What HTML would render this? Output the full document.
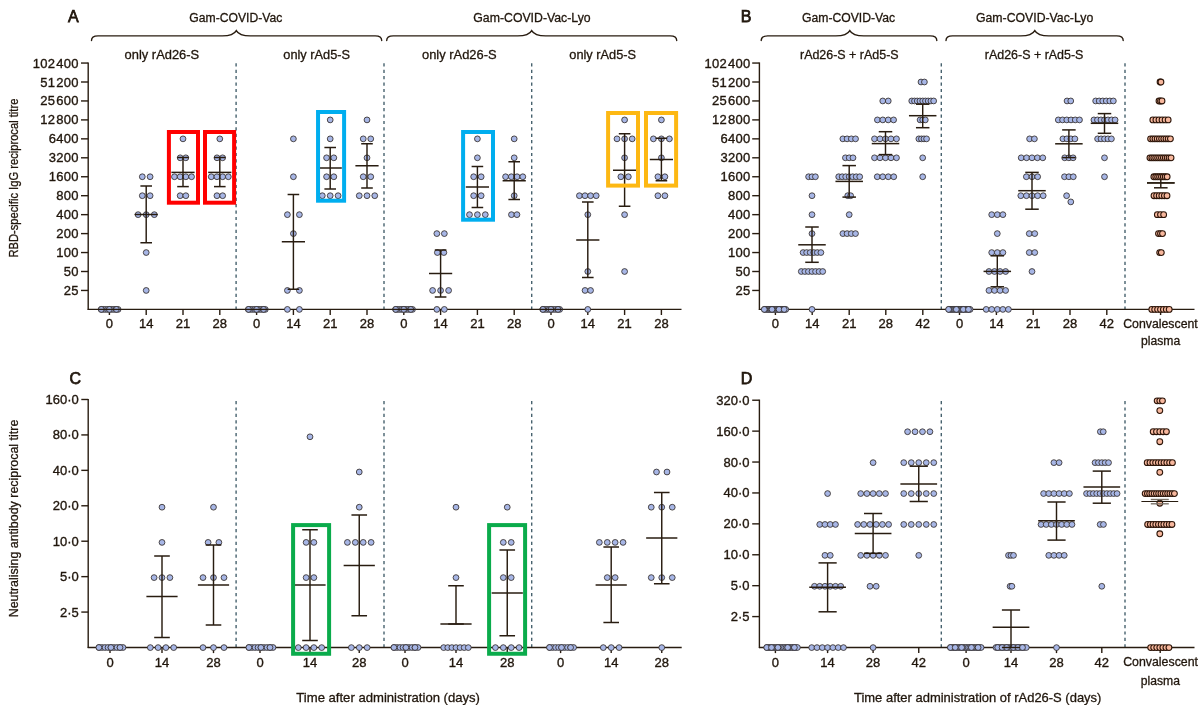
<!DOCTYPE html>
<html><head><meta charset="utf-8"><title>Figure</title>
<style>
html,body{margin:0;padding:0;background:#fff;}
body{width:1200px;height:710px;overflow:hidden;font-family:"Liberation Sans",sans-serif;}
svg{display:block;will-change:transform}
svg text{font-family:"Liberation Sans",sans-serif;fill:#20160c;stroke:#20160c;stroke-width:0.35px;}
svg text.t{stroke-width:0.3px;}
svg text.p{stroke-width:0.75px;}
</style></head><body>
<svg width="1200" height="710" viewBox="0 0 1200 710">
<rect width="1200" height="710" fill="#ffffff"/>
<line x1="236.10" y1="63.30" x2="236.10" y2="309.00" stroke="#47626e" stroke-width="1.4" stroke-dasharray="3.2 3.2"/>
<line x1="384.00" y1="63.30" x2="384.00" y2="309.00" stroke="#47626e" stroke-width="1.4" stroke-dasharray="3.2 3.2"/>
<line x1="531.70" y1="63.30" x2="531.70" y2="309.00" stroke="#47626e" stroke-width="1.4" stroke-dasharray="3.2 3.2"/>
<line x1="88.20" y1="62.45" x2="88.20" y2="310.00" stroke="#281c10" stroke-width="1.4" />
<line x1="87.70" y1="309.40" x2="681.50" y2="309.40" stroke="#281c10" stroke-width="1.4" />
<line x1="81.00" y1="290.45" x2="88.20" y2="290.45" stroke="#281c10" stroke-width="1.4" />
<line x1="81.00" y1="271.50" x2="88.20" y2="271.50" stroke="#281c10" stroke-width="1.4" />
<line x1="81.00" y1="252.55" x2="88.20" y2="252.55" stroke="#281c10" stroke-width="1.4" />
<line x1="81.00" y1="233.60" x2="88.20" y2="233.60" stroke="#281c10" stroke-width="1.4" />
<line x1="81.00" y1="214.65" x2="88.20" y2="214.65" stroke="#281c10" stroke-width="1.4" />
<line x1="81.00" y1="195.70" x2="88.20" y2="195.70" stroke="#281c10" stroke-width="1.4" />
<line x1="81.00" y1="176.75" x2="88.20" y2="176.75" stroke="#281c10" stroke-width="1.4" />
<line x1="81.00" y1="157.80" x2="88.20" y2="157.80" stroke="#281c10" stroke-width="1.4" />
<line x1="81.00" y1="138.85" x2="88.20" y2="138.85" stroke="#281c10" stroke-width="1.4" />
<line x1="81.00" y1="119.90" x2="88.20" y2="119.90" stroke="#281c10" stroke-width="1.4" />
<line x1="81.00" y1="100.95" x2="88.20" y2="100.95" stroke="#281c10" stroke-width="1.4" />
<line x1="81.00" y1="82.00" x2="88.20" y2="82.00" stroke="#281c10" stroke-width="1.4" />
<line x1="81.00" y1="63.05" x2="88.20" y2="63.05" stroke="#281c10" stroke-width="1.4" />
<line x1="109.40" y1="309.40" x2="109.40" y2="315.00" stroke="#281c10" stroke-width="1.4" />
<line x1="146.20" y1="309.40" x2="146.20" y2="315.00" stroke="#281c10" stroke-width="1.4" />
<line x1="183.00" y1="309.40" x2="183.00" y2="315.00" stroke="#281c10" stroke-width="1.4" />
<line x1="219.80" y1="309.40" x2="219.80" y2="315.00" stroke="#281c10" stroke-width="1.4" />
<line x1="256.60" y1="309.40" x2="256.60" y2="315.00" stroke="#281c10" stroke-width="1.4" />
<line x1="293.40" y1="309.40" x2="293.40" y2="315.00" stroke="#281c10" stroke-width="1.4" />
<line x1="330.20" y1="309.40" x2="330.20" y2="315.00" stroke="#281c10" stroke-width="1.4" />
<line x1="367.00" y1="309.40" x2="367.00" y2="315.00" stroke="#281c10" stroke-width="1.4" />
<line x1="403.80" y1="309.40" x2="403.80" y2="315.00" stroke="#281c10" stroke-width="1.4" />
<line x1="440.60" y1="309.40" x2="440.60" y2="315.00" stroke="#281c10" stroke-width="1.4" />
<line x1="477.40" y1="309.40" x2="477.40" y2="315.00" stroke="#281c10" stroke-width="1.4" />
<line x1="514.20" y1="309.40" x2="514.20" y2="315.00" stroke="#281c10" stroke-width="1.4" />
<line x1="551.00" y1="309.40" x2="551.00" y2="315.00" stroke="#281c10" stroke-width="1.4" />
<line x1="587.80" y1="309.40" x2="587.80" y2="315.00" stroke="#281c10" stroke-width="1.4" />
<line x1="624.60" y1="309.40" x2="624.60" y2="315.00" stroke="#281c10" stroke-width="1.4" />
<line x1="661.40" y1="309.40" x2="661.40" y2="315.00" stroke="#281c10" stroke-width="1.4" />
<circle cx="101.20" cy="309.40" r="2.9" fill="#a7b6e6" stroke="#2c2520" stroke-width="0.8"/>
<circle cx="103.31" cy="309.40" r="2.9" fill="#a7b6e6" stroke="#2c2520" stroke-width="0.8"/>
<circle cx="105.43" cy="309.40" r="2.9" fill="#a7b6e6" stroke="#2c2520" stroke-width="0.8"/>
<circle cx="107.54" cy="309.40" r="2.9" fill="#a7b6e6" stroke="#2c2520" stroke-width="0.8"/>
<circle cx="109.65" cy="309.40" r="2.9" fill="#a7b6e6" stroke="#2c2520" stroke-width="0.8"/>
<circle cx="111.76" cy="309.40" r="2.9" fill="#a7b6e6" stroke="#2c2520" stroke-width="0.8"/>
<circle cx="113.88" cy="309.40" r="2.9" fill="#a7b6e6" stroke="#2c2520" stroke-width="0.8"/>
<circle cx="115.99" cy="309.40" r="2.9" fill="#a7b6e6" stroke="#2c2520" stroke-width="0.8"/>
<circle cx="118.10" cy="309.40" r="2.9" fill="#a7b6e6" stroke="#2c2520" stroke-width="0.8"/>
<circle cx="101.30" cy="309.40" r="2.9" fill="#a7b6e6" stroke="#2c2520" stroke-width="0.8"/>
<circle cx="109.35" cy="309.40" r="2.9" fill="#a7b6e6" stroke="#2c2520" stroke-width="0.8"/>
<circle cx="116.40" cy="309.40" r="2.9" fill="#a7b6e6" stroke="#2c2520" stroke-width="0.8"/>
<circle cx="248.40" cy="309.40" r="2.9" fill="#a7b6e6" stroke="#2c2520" stroke-width="0.8"/>
<circle cx="250.51" cy="309.40" r="2.9" fill="#a7b6e6" stroke="#2c2520" stroke-width="0.8"/>
<circle cx="252.63" cy="309.40" r="2.9" fill="#a7b6e6" stroke="#2c2520" stroke-width="0.8"/>
<circle cx="254.74" cy="309.40" r="2.9" fill="#a7b6e6" stroke="#2c2520" stroke-width="0.8"/>
<circle cx="256.85" cy="309.40" r="2.9" fill="#a7b6e6" stroke="#2c2520" stroke-width="0.8"/>
<circle cx="258.96" cy="309.40" r="2.9" fill="#a7b6e6" stroke="#2c2520" stroke-width="0.8"/>
<circle cx="261.08" cy="309.40" r="2.9" fill="#a7b6e6" stroke="#2c2520" stroke-width="0.8"/>
<circle cx="263.19" cy="309.40" r="2.9" fill="#a7b6e6" stroke="#2c2520" stroke-width="0.8"/>
<circle cx="265.30" cy="309.40" r="2.9" fill="#a7b6e6" stroke="#2c2520" stroke-width="0.8"/>
<circle cx="248.50" cy="309.40" r="2.9" fill="#a7b6e6" stroke="#2c2520" stroke-width="0.8"/>
<circle cx="256.55" cy="309.40" r="2.9" fill="#a7b6e6" stroke="#2c2520" stroke-width="0.8"/>
<circle cx="263.60" cy="309.40" r="2.9" fill="#a7b6e6" stroke="#2c2520" stroke-width="0.8"/>
<circle cx="395.60" cy="309.40" r="2.9" fill="#a7b6e6" stroke="#2c2520" stroke-width="0.8"/>
<circle cx="397.71" cy="309.40" r="2.9" fill="#a7b6e6" stroke="#2c2520" stroke-width="0.8"/>
<circle cx="399.82" cy="309.40" r="2.9" fill="#a7b6e6" stroke="#2c2520" stroke-width="0.8"/>
<circle cx="401.94" cy="309.40" r="2.9" fill="#a7b6e6" stroke="#2c2520" stroke-width="0.8"/>
<circle cx="404.05" cy="309.40" r="2.9" fill="#a7b6e6" stroke="#2c2520" stroke-width="0.8"/>
<circle cx="406.16" cy="309.40" r="2.9" fill="#a7b6e6" stroke="#2c2520" stroke-width="0.8"/>
<circle cx="408.27" cy="309.40" r="2.9" fill="#a7b6e6" stroke="#2c2520" stroke-width="0.8"/>
<circle cx="410.39" cy="309.40" r="2.9" fill="#a7b6e6" stroke="#2c2520" stroke-width="0.8"/>
<circle cx="412.50" cy="309.40" r="2.9" fill="#a7b6e6" stroke="#2c2520" stroke-width="0.8"/>
<circle cx="395.70" cy="309.40" r="2.9" fill="#a7b6e6" stroke="#2c2520" stroke-width="0.8"/>
<circle cx="403.75" cy="309.40" r="2.9" fill="#a7b6e6" stroke="#2c2520" stroke-width="0.8"/>
<circle cx="410.80" cy="309.40" r="2.9" fill="#a7b6e6" stroke="#2c2520" stroke-width="0.8"/>
<circle cx="542.80" cy="309.40" r="2.9" fill="#a7b6e6" stroke="#2c2520" stroke-width="0.8"/>
<circle cx="544.91" cy="309.40" r="2.9" fill="#a7b6e6" stroke="#2c2520" stroke-width="0.8"/>
<circle cx="547.02" cy="309.40" r="2.9" fill="#a7b6e6" stroke="#2c2520" stroke-width="0.8"/>
<circle cx="549.14" cy="309.40" r="2.9" fill="#a7b6e6" stroke="#2c2520" stroke-width="0.8"/>
<circle cx="551.25" cy="309.40" r="2.9" fill="#a7b6e6" stroke="#2c2520" stroke-width="0.8"/>
<circle cx="553.36" cy="309.40" r="2.9" fill="#a7b6e6" stroke="#2c2520" stroke-width="0.8"/>
<circle cx="555.48" cy="309.40" r="2.9" fill="#a7b6e6" stroke="#2c2520" stroke-width="0.8"/>
<circle cx="557.59" cy="309.40" r="2.9" fill="#a7b6e6" stroke="#2c2520" stroke-width="0.8"/>
<circle cx="559.70" cy="309.40" r="2.9" fill="#a7b6e6" stroke="#2c2520" stroke-width="0.8"/>
<circle cx="542.90" cy="309.40" r="2.9" fill="#a7b6e6" stroke="#2c2520" stroke-width="0.8"/>
<circle cx="550.95" cy="309.40" r="2.9" fill="#a7b6e6" stroke="#2c2520" stroke-width="0.8"/>
<circle cx="558.00" cy="309.40" r="2.9" fill="#a7b6e6" stroke="#2c2520" stroke-width="0.8"/>
<circle cx="142.30" cy="176.75" r="2.9" fill="#a7b6e6" stroke="#2c2520" stroke-width="0.8"/>
<circle cx="150.10" cy="176.75" r="2.9" fill="#a7b6e6" stroke="#2c2520" stroke-width="0.8"/>
<circle cx="142.30" cy="195.70" r="2.9" fill="#a7b6e6" stroke="#2c2520" stroke-width="0.8"/>
<circle cx="150.10" cy="195.70" r="2.9" fill="#a7b6e6" stroke="#2c2520" stroke-width="0.8"/>
<circle cx="138.10" cy="214.65" r="2.9" fill="#a7b6e6" stroke="#2c2520" stroke-width="0.8"/>
<circle cx="146.20" cy="214.65" r="2.9" fill="#a7b6e6" stroke="#2c2520" stroke-width="0.8"/>
<circle cx="154.30" cy="214.65" r="2.9" fill="#a7b6e6" stroke="#2c2520" stroke-width="0.8"/>
<circle cx="146.20" cy="252.55" r="2.9" fill="#a7b6e6" stroke="#2c2520" stroke-width="0.8"/>
<circle cx="146.20" cy="290.45" r="2.9" fill="#a7b6e6" stroke="#2c2520" stroke-width="0.8"/>
<circle cx="183.00" cy="138.85" r="2.9" fill="#a7b6e6" stroke="#2c2520" stroke-width="0.8"/>
<circle cx="180.20" cy="157.80" r="2.9" fill="#a7b6e6" stroke="#2c2520" stroke-width="0.8"/>
<circle cx="185.80" cy="157.80" r="2.9" fill="#a7b6e6" stroke="#2c2520" stroke-width="0.8"/>
<circle cx="174.45" cy="176.75" r="2.9" fill="#a7b6e6" stroke="#2c2520" stroke-width="0.8"/>
<circle cx="180.15" cy="176.75" r="2.9" fill="#a7b6e6" stroke="#2c2520" stroke-width="0.8"/>
<circle cx="185.85" cy="176.75" r="2.9" fill="#a7b6e6" stroke="#2c2520" stroke-width="0.8"/>
<circle cx="191.55" cy="176.75" r="2.9" fill="#a7b6e6" stroke="#2c2520" stroke-width="0.8"/>
<circle cx="180.15" cy="195.70" r="2.9" fill="#a7b6e6" stroke="#2c2520" stroke-width="0.8"/>
<circle cx="185.85" cy="195.70" r="2.9" fill="#a7b6e6" stroke="#2c2520" stroke-width="0.8"/>
<circle cx="219.80" cy="138.85" r="2.9" fill="#a7b6e6" stroke="#2c2520" stroke-width="0.8"/>
<circle cx="217.00" cy="157.80" r="2.9" fill="#a7b6e6" stroke="#2c2520" stroke-width="0.8"/>
<circle cx="222.60" cy="157.80" r="2.9" fill="#a7b6e6" stroke="#2c2520" stroke-width="0.8"/>
<circle cx="211.25" cy="176.75" r="2.9" fill="#a7b6e6" stroke="#2c2520" stroke-width="0.8"/>
<circle cx="216.95" cy="176.75" r="2.9" fill="#a7b6e6" stroke="#2c2520" stroke-width="0.8"/>
<circle cx="222.65" cy="176.75" r="2.9" fill="#a7b6e6" stroke="#2c2520" stroke-width="0.8"/>
<circle cx="228.35" cy="176.75" r="2.9" fill="#a7b6e6" stroke="#2c2520" stroke-width="0.8"/>
<circle cx="216.95" cy="195.70" r="2.9" fill="#a7b6e6" stroke="#2c2520" stroke-width="0.8"/>
<circle cx="222.65" cy="195.70" r="2.9" fill="#a7b6e6" stroke="#2c2520" stroke-width="0.8"/>
<circle cx="293.40" cy="138.85" r="2.9" fill="#a7b6e6" stroke="#2c2520" stroke-width="0.8"/>
<circle cx="293.40" cy="176.75" r="2.9" fill="#a7b6e6" stroke="#2c2520" stroke-width="0.8"/>
<circle cx="287.40" cy="214.65" r="2.9" fill="#a7b6e6" stroke="#2c2520" stroke-width="0.8"/>
<circle cx="299.40" cy="214.65" r="2.9" fill="#a7b6e6" stroke="#2c2520" stroke-width="0.8"/>
<circle cx="293.40" cy="233.60" r="2.9" fill="#a7b6e6" stroke="#2c2520" stroke-width="0.8"/>
<circle cx="287.40" cy="290.45" r="2.9" fill="#a7b6e6" stroke="#2c2520" stroke-width="0.8"/>
<circle cx="299.40" cy="290.45" r="2.9" fill="#a7b6e6" stroke="#2c2520" stroke-width="0.8"/>
<circle cx="287.40" cy="309.40" r="2.9" fill="#a7b6e6" stroke="#2c2520" stroke-width="0.8"/>
<circle cx="299.40" cy="309.40" r="2.9" fill="#a7b6e6" stroke="#2c2520" stroke-width="0.8"/>
<circle cx="330.20" cy="119.90" r="2.9" fill="#a7b6e6" stroke="#2c2520" stroke-width="0.8"/>
<circle cx="330.20" cy="138.85" r="2.9" fill="#a7b6e6" stroke="#2c2520" stroke-width="0.8"/>
<circle cx="326.57" cy="157.80" r="2.9" fill="#a7b6e6" stroke="#2c2520" stroke-width="0.8"/>
<circle cx="333.82" cy="157.80" r="2.9" fill="#a7b6e6" stroke="#2c2520" stroke-width="0.8"/>
<circle cx="326.57" cy="176.75" r="2.9" fill="#a7b6e6" stroke="#2c2520" stroke-width="0.8"/>
<circle cx="333.82" cy="176.75" r="2.9" fill="#a7b6e6" stroke="#2c2520" stroke-width="0.8"/>
<circle cx="322.30" cy="195.70" r="2.9" fill="#a7b6e6" stroke="#2c2520" stroke-width="0.8"/>
<circle cx="330.20" cy="195.70" r="2.9" fill="#a7b6e6" stroke="#2c2520" stroke-width="0.8"/>
<circle cx="338.10" cy="195.70" r="2.9" fill="#a7b6e6" stroke="#2c2520" stroke-width="0.8"/>
<circle cx="367.00" cy="119.90" r="2.9" fill="#a7b6e6" stroke="#2c2520" stroke-width="0.8"/>
<circle cx="363.25" cy="138.85" r="2.9" fill="#a7b6e6" stroke="#2c2520" stroke-width="0.8"/>
<circle cx="370.75" cy="138.85" r="2.9" fill="#a7b6e6" stroke="#2c2520" stroke-width="0.8"/>
<circle cx="367.00" cy="157.80" r="2.9" fill="#a7b6e6" stroke="#2c2520" stroke-width="0.8"/>
<circle cx="363.25" cy="176.75" r="2.9" fill="#a7b6e6" stroke="#2c2520" stroke-width="0.8"/>
<circle cx="370.75" cy="176.75" r="2.9" fill="#a7b6e6" stroke="#2c2520" stroke-width="0.8"/>
<circle cx="359.25" cy="195.70" r="2.9" fill="#a7b6e6" stroke="#2c2520" stroke-width="0.8"/>
<circle cx="367.00" cy="195.70" r="2.9" fill="#a7b6e6" stroke="#2c2520" stroke-width="0.8"/>
<circle cx="374.75" cy="195.70" r="2.9" fill="#a7b6e6" stroke="#2c2520" stroke-width="0.8"/>
<circle cx="436.85" cy="233.60" r="2.9" fill="#a7b6e6" stroke="#2c2520" stroke-width="0.8"/>
<circle cx="444.35" cy="233.60" r="2.9" fill="#a7b6e6" stroke="#2c2520" stroke-width="0.8"/>
<circle cx="437.35" cy="252.55" r="2.9" fill="#a7b6e6" stroke="#2c2520" stroke-width="0.8"/>
<circle cx="443.85" cy="252.55" r="2.9" fill="#a7b6e6" stroke="#2c2520" stroke-width="0.8"/>
<circle cx="432.60" cy="290.45" r="2.9" fill="#a7b6e6" stroke="#2c2520" stroke-width="0.8"/>
<circle cx="440.60" cy="290.45" r="2.9" fill="#a7b6e6" stroke="#2c2520" stroke-width="0.8"/>
<circle cx="448.60" cy="290.45" r="2.9" fill="#a7b6e6" stroke="#2c2520" stroke-width="0.8"/>
<circle cx="436.85" cy="309.40" r="2.9" fill="#a7b6e6" stroke="#2c2520" stroke-width="0.8"/>
<circle cx="444.35" cy="309.40" r="2.9" fill="#a7b6e6" stroke="#2c2520" stroke-width="0.8"/>
<circle cx="477.40" cy="138.85" r="2.9" fill="#a7b6e6" stroke="#2c2520" stroke-width="0.8"/>
<circle cx="477.40" cy="157.80" r="2.9" fill="#a7b6e6" stroke="#2c2520" stroke-width="0.8"/>
<circle cx="473.65" cy="176.75" r="2.9" fill="#a7b6e6" stroke="#2c2520" stroke-width="0.8"/>
<circle cx="481.15" cy="176.75" r="2.9" fill="#a7b6e6" stroke="#2c2520" stroke-width="0.8"/>
<circle cx="473.65" cy="195.70" r="2.9" fill="#a7b6e6" stroke="#2c2520" stroke-width="0.8"/>
<circle cx="481.15" cy="195.70" r="2.9" fill="#a7b6e6" stroke="#2c2520" stroke-width="0.8"/>
<circle cx="469.50" cy="214.65" r="2.9" fill="#a7b6e6" stroke="#2c2520" stroke-width="0.8"/>
<circle cx="477.40" cy="214.65" r="2.9" fill="#a7b6e6" stroke="#2c2520" stroke-width="0.8"/>
<circle cx="485.30" cy="214.65" r="2.9" fill="#a7b6e6" stroke="#2c2520" stroke-width="0.8"/>
<circle cx="514.20" cy="138.85" r="2.9" fill="#a7b6e6" stroke="#2c2520" stroke-width="0.8"/>
<circle cx="514.20" cy="157.80" r="2.9" fill="#a7b6e6" stroke="#2c2520" stroke-width="0.8"/>
<circle cx="505.57" cy="176.75" r="2.9" fill="#a7b6e6" stroke="#2c2520" stroke-width="0.8"/>
<circle cx="511.32" cy="176.75" r="2.9" fill="#a7b6e6" stroke="#2c2520" stroke-width="0.8"/>
<circle cx="517.07" cy="176.75" r="2.9" fill="#a7b6e6" stroke="#2c2520" stroke-width="0.8"/>
<circle cx="522.82" cy="176.75" r="2.9" fill="#a7b6e6" stroke="#2c2520" stroke-width="0.8"/>
<circle cx="514.20" cy="195.70" r="2.9" fill="#a7b6e6" stroke="#2c2520" stroke-width="0.8"/>
<circle cx="511.45" cy="214.65" r="2.9" fill="#a7b6e6" stroke="#2c2520" stroke-width="0.8"/>
<circle cx="516.95" cy="214.65" r="2.9" fill="#a7b6e6" stroke="#2c2520" stroke-width="0.8"/>
<circle cx="579.40" cy="195.70" r="2.9" fill="#a7b6e6" stroke="#2c2520" stroke-width="0.8"/>
<circle cx="585.00" cy="195.70" r="2.9" fill="#a7b6e6" stroke="#2c2520" stroke-width="0.8"/>
<circle cx="590.60" cy="195.70" r="2.9" fill="#a7b6e6" stroke="#2c2520" stroke-width="0.8"/>
<circle cx="596.20" cy="195.70" r="2.9" fill="#a7b6e6" stroke="#2c2520" stroke-width="0.8"/>
<circle cx="587.80" cy="214.65" r="2.9" fill="#a7b6e6" stroke="#2c2520" stroke-width="0.8"/>
<circle cx="587.80" cy="271.50" r="2.9" fill="#a7b6e6" stroke="#2c2520" stroke-width="0.8"/>
<circle cx="585.05" cy="290.45" r="2.9" fill="#a7b6e6" stroke="#2c2520" stroke-width="0.8"/>
<circle cx="590.55" cy="290.45" r="2.9" fill="#a7b6e6" stroke="#2c2520" stroke-width="0.8"/>
<circle cx="587.80" cy="309.40" r="2.9" fill="#a7b6e6" stroke="#2c2520" stroke-width="0.8"/>
<circle cx="624.60" cy="119.90" r="2.9" fill="#a7b6e6" stroke="#2c2520" stroke-width="0.8"/>
<circle cx="617.00" cy="138.85" r="2.9" fill="#a7b6e6" stroke="#2c2520" stroke-width="0.8"/>
<circle cx="624.60" cy="138.85" r="2.9" fill="#a7b6e6" stroke="#2c2520" stroke-width="0.8"/>
<circle cx="632.20" cy="138.85" r="2.9" fill="#a7b6e6" stroke="#2c2520" stroke-width="0.8"/>
<circle cx="624.60" cy="157.80" r="2.9" fill="#a7b6e6" stroke="#2c2520" stroke-width="0.8"/>
<circle cx="620.85" cy="176.75" r="2.9" fill="#a7b6e6" stroke="#2c2520" stroke-width="0.8"/>
<circle cx="628.35" cy="176.75" r="2.9" fill="#a7b6e6" stroke="#2c2520" stroke-width="0.8"/>
<circle cx="624.60" cy="214.65" r="2.9" fill="#a7b6e6" stroke="#2c2520" stroke-width="0.8"/>
<circle cx="624.60" cy="271.50" r="2.9" fill="#a7b6e6" stroke="#2c2520" stroke-width="0.8"/>
<circle cx="661.40" cy="119.90" r="2.9" fill="#a7b6e6" stroke="#2c2520" stroke-width="0.8"/>
<circle cx="653.40" cy="138.85" r="2.9" fill="#a7b6e6" stroke="#2c2520" stroke-width="0.8"/>
<circle cx="661.40" cy="138.85" r="2.9" fill="#a7b6e6" stroke="#2c2520" stroke-width="0.8"/>
<circle cx="669.40" cy="138.85" r="2.9" fill="#a7b6e6" stroke="#2c2520" stroke-width="0.8"/>
<circle cx="661.40" cy="157.80" r="2.9" fill="#a7b6e6" stroke="#2c2520" stroke-width="0.8"/>
<circle cx="657.90" cy="176.75" r="2.9" fill="#a7b6e6" stroke="#2c2520" stroke-width="0.8"/>
<circle cx="664.90" cy="176.75" r="2.9" fill="#a7b6e6" stroke="#2c2520" stroke-width="0.8"/>
<circle cx="657.90" cy="195.70" r="2.9" fill="#a7b6e6" stroke="#2c2520" stroke-width="0.8"/>
<circle cx="664.90" cy="195.70" r="2.9" fill="#a7b6e6" stroke="#2c2520" stroke-width="0.8"/>
<line x1="146.20" y1="186.00" x2="146.20" y2="242.75" stroke="#281c10" stroke-width="1.45" />
<line x1="134.60" y1="214.50" x2="157.80" y2="214.50" stroke="#281c10" stroke-width="1.5" />
<line x1="140.40" y1="186.00" x2="152.00" y2="186.00" stroke="#281c10" stroke-width="1.5" />
<line x1="140.40" y1="242.75" x2="152.00" y2="242.75" stroke="#281c10" stroke-width="1.5" />
<line x1="183.00" y1="157.50" x2="183.00" y2="186.60" stroke="#281c10" stroke-width="1.45" />
<line x1="171.40" y1="172.40" x2="194.60" y2="172.40" stroke="#281c10" stroke-width="1.5" />
<line x1="177.20" y1="157.50" x2="188.80" y2="157.50" stroke="#281c10" stroke-width="1.5" />
<line x1="177.20" y1="186.60" x2="188.80" y2="186.60" stroke="#281c10" stroke-width="1.5" />
<line x1="219.80" y1="157.50" x2="219.80" y2="186.60" stroke="#281c10" stroke-width="1.45" />
<line x1="208.20" y1="172.40" x2="231.40" y2="172.40" stroke="#281c10" stroke-width="1.5" />
<line x1="214.00" y1="157.50" x2="225.60" y2="157.50" stroke="#281c10" stroke-width="1.5" />
<line x1="214.00" y1="186.60" x2="225.60" y2="186.60" stroke="#281c10" stroke-width="1.5" />
<line x1="293.40" y1="194.50" x2="293.40" y2="289.25" stroke="#281c10" stroke-width="1.45" />
<line x1="281.80" y1="241.75" x2="305.00" y2="241.75" stroke="#281c10" stroke-width="1.5" />
<line x1="287.60" y1="194.50" x2="299.20" y2="194.50" stroke="#281c10" stroke-width="1.5" />
<line x1="287.60" y1="289.25" x2="299.20" y2="289.25" stroke="#281c10" stroke-width="1.5" />
<line x1="330.20" y1="147.50" x2="330.20" y2="189.00" stroke="#281c10" stroke-width="1.45" />
<line x1="318.60" y1="168.00" x2="341.80" y2="168.00" stroke="#281c10" stroke-width="1.5" />
<line x1="324.40" y1="147.50" x2="336.00" y2="147.50" stroke="#281c10" stroke-width="1.5" />
<line x1="324.40" y1="189.00" x2="336.00" y2="189.00" stroke="#281c10" stroke-width="1.5" />
<line x1="367.00" y1="143.75" x2="367.00" y2="188.00" stroke="#281c10" stroke-width="1.45" />
<line x1="355.40" y1="165.75" x2="378.60" y2="165.75" stroke="#281c10" stroke-width="1.5" />
<line x1="361.20" y1="143.75" x2="372.80" y2="143.75" stroke="#281c10" stroke-width="1.5" />
<line x1="361.20" y1="188.00" x2="372.80" y2="188.00" stroke="#281c10" stroke-width="1.5" />
<line x1="440.60" y1="250.00" x2="440.60" y2="297.00" stroke="#281c10" stroke-width="1.45" />
<line x1="429.00" y1="273.50" x2="452.20" y2="273.50" stroke="#281c10" stroke-width="1.5" />
<line x1="434.80" y1="250.00" x2="446.40" y2="250.00" stroke="#281c10" stroke-width="1.5" />
<line x1="434.80" y1="297.00" x2="446.40" y2="297.00" stroke="#281c10" stroke-width="1.5" />
<line x1="477.40" y1="166.50" x2="477.40" y2="207.50" stroke="#281c10" stroke-width="1.45" />
<line x1="465.80" y1="187.00" x2="489.00" y2="187.00" stroke="#281c10" stroke-width="1.5" />
<line x1="471.60" y1="166.50" x2="483.20" y2="166.50" stroke="#281c10" stroke-width="1.5" />
<line x1="471.60" y1="207.50" x2="483.20" y2="207.50" stroke="#281c10" stroke-width="1.5" />
<line x1="514.20" y1="161.75" x2="514.20" y2="199.50" stroke="#281c10" stroke-width="1.45" />
<line x1="502.60" y1="180.75" x2="525.80" y2="180.75" stroke="#281c10" stroke-width="1.5" />
<line x1="508.40" y1="161.75" x2="520.00" y2="161.75" stroke="#281c10" stroke-width="1.5" />
<line x1="508.40" y1="199.50" x2="520.00" y2="199.50" stroke="#281c10" stroke-width="1.5" />
<line x1="587.80" y1="202.00" x2="587.80" y2="277.50" stroke="#281c10" stroke-width="1.45" />
<line x1="576.20" y1="240.00" x2="599.40" y2="240.00" stroke="#281c10" stroke-width="1.5" />
<line x1="582.00" y1="202.00" x2="593.60" y2="202.00" stroke="#281c10" stroke-width="1.5" />
<line x1="582.00" y1="277.50" x2="593.60" y2="277.50" stroke="#281c10" stroke-width="1.5" />
<line x1="624.60" y1="133.75" x2="624.60" y2="206.25" stroke="#281c10" stroke-width="1.45" />
<line x1="613.00" y1="170.25" x2="636.20" y2="170.25" stroke="#281c10" stroke-width="1.5" />
<line x1="618.80" y1="133.75" x2="630.40" y2="133.75" stroke="#281c10" stroke-width="1.5" />
<line x1="618.80" y1="206.25" x2="630.40" y2="206.25" stroke="#281c10" stroke-width="1.5" />
<line x1="661.40" y1="138.25" x2="661.40" y2="180.75" stroke="#281c10" stroke-width="1.45" />
<line x1="649.80" y1="159.50" x2="673.00" y2="159.50" stroke="#281c10" stroke-width="1.5" />
<line x1="655.60" y1="138.25" x2="667.20" y2="138.25" stroke="#281c10" stroke-width="1.5" />
<line x1="655.60" y1="180.75" x2="667.20" y2="180.75" stroke="#281c10" stroke-width="1.5" />
<line x1="97.80" y1="309.40" x2="121.00" y2="309.40" stroke="#281c10" stroke-width="1.35" />
<line x1="245.00" y1="309.40" x2="268.20" y2="309.40" stroke="#281c10" stroke-width="1.35" />
<line x1="392.20" y1="309.40" x2="415.40" y2="309.40" stroke="#281c10" stroke-width="1.35" />
<line x1="539.40" y1="309.40" x2="562.60" y2="309.40" stroke="#281c10" stroke-width="1.35" />
<rect x="168.90" y="132.00" width="29.10" height="70.70" fill="none" stroke="#ff0000" stroke-width="4.0"/>
<rect x="205.00" y="132.00" width="29.10" height="70.70" fill="none" stroke="#ff0000" stroke-width="4.0"/>
<rect x="318.05" y="112.00" width="26.05" height="88.70" fill="none" stroke="#00aeef" stroke-width="4.0"/>
<rect x="463.10" y="132.00" width="29.90" height="87.70" fill="none" stroke="#00aeef" stroke-width="4.0"/>
<rect x="608.10" y="113.00" width="29.90" height="72.60" fill="none" stroke="#fdb813" stroke-width="4.0"/>
<rect x="646.00" y="113.00" width="30.10" height="72.60" fill="none" stroke="#fdb813" stroke-width="4.0"/>
<path d="M91.5,40.6 C91.5,37.1 93.5,35.9 98.0,35.9 L222.3,35.9 C230.3,35.9 234.5,33.9 236.3,30.6 C238.1,33.9 242.3,35.9 250.3,35.9 L375.2,35.9 C379.7,35.9 381.7,37.1 381.7,40.6" fill="none" stroke="#281c10" stroke-width="1.4" stroke-linecap="round"/>
<path d="M386.7,40.6 C386.7,37.1 388.7,35.9 393.2,35.9 L517.7,35.9 C525.7,35.9 529.9,33.9 531.7,30.6 C533.5,33.9 537.7,35.9 545.7,35.9 L670.2,35.9 C674.7,35.9 676.7,37.1 676.7,40.6" fill="none" stroke="#281c10" stroke-width="1.4" stroke-linecap="round"/>
<line x1="941.30" y1="63.30" x2="941.30" y2="309.00" stroke="#47626e" stroke-width="1.4" stroke-dasharray="3.2 3.2"/>
<line x1="1125.00" y1="63.30" x2="1125.00" y2="309.00" stroke="#47626e" stroke-width="1.4" stroke-dasharray="3.2 3.2"/>
<line x1="759.40" y1="62.45" x2="759.40" y2="310.00" stroke="#281c10" stroke-width="1.4" />
<line x1="758.90" y1="309.40" x2="1194.50" y2="309.40" stroke="#281c10" stroke-width="1.4" />
<line x1="752.20" y1="290.45" x2="759.40" y2="290.45" stroke="#281c10" stroke-width="1.4" />
<line x1="752.20" y1="271.50" x2="759.40" y2="271.50" stroke="#281c10" stroke-width="1.4" />
<line x1="752.20" y1="252.55" x2="759.40" y2="252.55" stroke="#281c10" stroke-width="1.4" />
<line x1="752.20" y1="233.60" x2="759.40" y2="233.60" stroke="#281c10" stroke-width="1.4" />
<line x1="752.20" y1="214.65" x2="759.40" y2="214.65" stroke="#281c10" stroke-width="1.4" />
<line x1="752.20" y1="195.70" x2="759.40" y2="195.70" stroke="#281c10" stroke-width="1.4" />
<line x1="752.20" y1="176.75" x2="759.40" y2="176.75" stroke="#281c10" stroke-width="1.4" />
<line x1="752.20" y1="157.80" x2="759.40" y2="157.80" stroke="#281c10" stroke-width="1.4" />
<line x1="752.20" y1="138.85" x2="759.40" y2="138.85" stroke="#281c10" stroke-width="1.4" />
<line x1="752.20" y1="119.90" x2="759.40" y2="119.90" stroke="#281c10" stroke-width="1.4" />
<line x1="752.20" y1="100.95" x2="759.40" y2="100.95" stroke="#281c10" stroke-width="1.4" />
<line x1="752.20" y1="82.00" x2="759.40" y2="82.00" stroke="#281c10" stroke-width="1.4" />
<line x1="752.20" y1="63.05" x2="759.40" y2="63.05" stroke="#281c10" stroke-width="1.4" />
<line x1="775.40" y1="309.40" x2="775.40" y2="315.00" stroke="#281c10" stroke-width="1.4" />
<line x1="812.20" y1="309.40" x2="812.20" y2="315.00" stroke="#281c10" stroke-width="1.4" />
<line x1="849.20" y1="309.40" x2="849.20" y2="315.00" stroke="#281c10" stroke-width="1.4" />
<line x1="885.80" y1="309.40" x2="885.80" y2="315.00" stroke="#281c10" stroke-width="1.4" />
<line x1="922.80" y1="309.40" x2="922.80" y2="315.00" stroke="#281c10" stroke-width="1.4" />
<line x1="959.50" y1="309.40" x2="959.50" y2="315.00" stroke="#281c10" stroke-width="1.4" />
<line x1="996.40" y1="309.40" x2="996.40" y2="315.00" stroke="#281c10" stroke-width="1.4" />
<line x1="1033.20" y1="309.40" x2="1033.20" y2="315.00" stroke="#281c10" stroke-width="1.4" />
<line x1="1070.00" y1="309.40" x2="1070.00" y2="315.00" stroke="#281c10" stroke-width="1.4" />
<line x1="1106.80" y1="309.40" x2="1106.80" y2="315.00" stroke="#281c10" stroke-width="1.4" />
<line x1="1160.60" y1="309.40" x2="1160.60" y2="315.00" stroke="#281c10" stroke-width="1.4" />
<circle cx="764.45" cy="309.40" r="2.9" fill="#a7b6e6" stroke="#2c2520" stroke-width="0.8"/>
<circle cx="765.57" cy="309.40" r="2.9" fill="#a7b6e6" stroke="#2c2520" stroke-width="0.8"/>
<circle cx="766.70" cy="309.40" r="2.9" fill="#a7b6e6" stroke="#2c2520" stroke-width="0.8"/>
<circle cx="767.82" cy="309.40" r="2.9" fill="#a7b6e6" stroke="#2c2520" stroke-width="0.8"/>
<circle cx="768.94" cy="309.40" r="2.9" fill="#a7b6e6" stroke="#2c2520" stroke-width="0.8"/>
<circle cx="770.07" cy="309.40" r="2.9" fill="#a7b6e6" stroke="#2c2520" stroke-width="0.8"/>
<circle cx="771.19" cy="309.40" r="2.9" fill="#a7b6e6" stroke="#2c2520" stroke-width="0.8"/>
<circle cx="772.32" cy="309.40" r="2.9" fill="#a7b6e6" stroke="#2c2520" stroke-width="0.8"/>
<circle cx="773.44" cy="309.40" r="2.9" fill="#a7b6e6" stroke="#2c2520" stroke-width="0.8"/>
<circle cx="774.56" cy="309.40" r="2.9" fill="#a7b6e6" stroke="#2c2520" stroke-width="0.8"/>
<circle cx="775.69" cy="309.40" r="2.9" fill="#a7b6e6" stroke="#2c2520" stroke-width="0.8"/>
<circle cx="776.81" cy="309.40" r="2.9" fill="#a7b6e6" stroke="#2c2520" stroke-width="0.8"/>
<circle cx="777.93" cy="309.40" r="2.9" fill="#a7b6e6" stroke="#2c2520" stroke-width="0.8"/>
<circle cx="779.06" cy="309.40" r="2.9" fill="#a7b6e6" stroke="#2c2520" stroke-width="0.8"/>
<circle cx="780.18" cy="309.40" r="2.9" fill="#a7b6e6" stroke="#2c2520" stroke-width="0.8"/>
<circle cx="781.31" cy="309.40" r="2.9" fill="#a7b6e6" stroke="#2c2520" stroke-width="0.8"/>
<circle cx="782.43" cy="309.40" r="2.9" fill="#a7b6e6" stroke="#2c2520" stroke-width="0.8"/>
<circle cx="783.55" cy="309.40" r="2.9" fill="#a7b6e6" stroke="#2c2520" stroke-width="0.8"/>
<circle cx="784.68" cy="309.40" r="2.9" fill="#a7b6e6" stroke="#2c2520" stroke-width="0.8"/>
<circle cx="785.80" cy="309.40" r="2.9" fill="#a7b6e6" stroke="#2c2520" stroke-width="0.8"/>
<circle cx="764.30" cy="309.40" r="2.9" fill="#a7b6e6" stroke="#2c2520" stroke-width="0.8"/>
<circle cx="772.00" cy="309.40" r="2.9" fill="#a7b6e6" stroke="#2c2520" stroke-width="0.8"/>
<circle cx="779.05" cy="309.40" r="2.9" fill="#a7b6e6" stroke="#2c2520" stroke-width="0.8"/>
<circle cx="784.20" cy="309.40" r="2.9" fill="#a7b6e6" stroke="#2c2520" stroke-width="0.8"/>
<circle cx="948.75" cy="309.40" r="2.9" fill="#a7b6e6" stroke="#2c2520" stroke-width="0.8"/>
<circle cx="949.87" cy="309.40" r="2.9" fill="#a7b6e6" stroke="#2c2520" stroke-width="0.8"/>
<circle cx="951.00" cy="309.40" r="2.9" fill="#a7b6e6" stroke="#2c2520" stroke-width="0.8"/>
<circle cx="952.12" cy="309.40" r="2.9" fill="#a7b6e6" stroke="#2c2520" stroke-width="0.8"/>
<circle cx="953.24" cy="309.40" r="2.9" fill="#a7b6e6" stroke="#2c2520" stroke-width="0.8"/>
<circle cx="954.37" cy="309.40" r="2.9" fill="#a7b6e6" stroke="#2c2520" stroke-width="0.8"/>
<circle cx="955.49" cy="309.40" r="2.9" fill="#a7b6e6" stroke="#2c2520" stroke-width="0.8"/>
<circle cx="956.62" cy="309.40" r="2.9" fill="#a7b6e6" stroke="#2c2520" stroke-width="0.8"/>
<circle cx="957.74" cy="309.40" r="2.9" fill="#a7b6e6" stroke="#2c2520" stroke-width="0.8"/>
<circle cx="958.86" cy="309.40" r="2.9" fill="#a7b6e6" stroke="#2c2520" stroke-width="0.8"/>
<circle cx="959.99" cy="309.40" r="2.9" fill="#a7b6e6" stroke="#2c2520" stroke-width="0.8"/>
<circle cx="961.11" cy="309.40" r="2.9" fill="#a7b6e6" stroke="#2c2520" stroke-width="0.8"/>
<circle cx="962.23" cy="309.40" r="2.9" fill="#a7b6e6" stroke="#2c2520" stroke-width="0.8"/>
<circle cx="963.36" cy="309.40" r="2.9" fill="#a7b6e6" stroke="#2c2520" stroke-width="0.8"/>
<circle cx="964.48" cy="309.40" r="2.9" fill="#a7b6e6" stroke="#2c2520" stroke-width="0.8"/>
<circle cx="965.61" cy="309.40" r="2.9" fill="#a7b6e6" stroke="#2c2520" stroke-width="0.8"/>
<circle cx="966.73" cy="309.40" r="2.9" fill="#a7b6e6" stroke="#2c2520" stroke-width="0.8"/>
<circle cx="967.85" cy="309.40" r="2.9" fill="#a7b6e6" stroke="#2c2520" stroke-width="0.8"/>
<circle cx="968.98" cy="309.40" r="2.9" fill="#a7b6e6" stroke="#2c2520" stroke-width="0.8"/>
<circle cx="970.10" cy="309.40" r="2.9" fill="#a7b6e6" stroke="#2c2520" stroke-width="0.8"/>
<circle cx="948.60" cy="309.40" r="2.9" fill="#a7b6e6" stroke="#2c2520" stroke-width="0.8"/>
<circle cx="956.30" cy="309.40" r="2.9" fill="#a7b6e6" stroke="#2c2520" stroke-width="0.8"/>
<circle cx="963.35" cy="309.40" r="2.9" fill="#a7b6e6" stroke="#2c2520" stroke-width="0.8"/>
<circle cx="968.50" cy="309.40" r="2.9" fill="#a7b6e6" stroke="#2c2520" stroke-width="0.8"/>
<circle cx="808.60" cy="176.75" r="2.9" fill="#a7b6e6" stroke="#2c2520" stroke-width="0.8"/>
<circle cx="812.00" cy="176.75" r="2.9" fill="#a7b6e6" stroke="#2c2520" stroke-width="0.8"/>
<circle cx="815.40" cy="176.75" r="2.9" fill="#a7b6e6" stroke="#2c2520" stroke-width="0.8"/>
<circle cx="812.00" cy="195.70" r="2.9" fill="#a7b6e6" stroke="#2c2520" stroke-width="0.8"/>
<circle cx="812.00" cy="214.65" r="2.9" fill="#a7b6e6" stroke="#2c2520" stroke-width="0.8"/>
<circle cx="812.00" cy="233.60" r="2.9" fill="#a7b6e6" stroke="#2c2520" stroke-width="0.8"/>
<circle cx="803.10" cy="252.55" r="2.9" fill="#a7b6e6" stroke="#2c2520" stroke-width="0.8"/>
<circle cx="806.66" cy="252.55" r="2.9" fill="#a7b6e6" stroke="#2c2520" stroke-width="0.8"/>
<circle cx="810.22" cy="252.55" r="2.9" fill="#a7b6e6" stroke="#2c2520" stroke-width="0.8"/>
<circle cx="813.78" cy="252.55" r="2.9" fill="#a7b6e6" stroke="#2c2520" stroke-width="0.8"/>
<circle cx="817.34" cy="252.55" r="2.9" fill="#a7b6e6" stroke="#2c2520" stroke-width="0.8"/>
<circle cx="820.90" cy="252.55" r="2.9" fill="#a7b6e6" stroke="#2c2520" stroke-width="0.8"/>
<circle cx="801.29" cy="271.50" r="2.9" fill="#a7b6e6" stroke="#2c2520" stroke-width="0.8"/>
<circle cx="804.86" cy="271.50" r="2.9" fill="#a7b6e6" stroke="#2c2520" stroke-width="0.8"/>
<circle cx="808.43" cy="271.50" r="2.9" fill="#a7b6e6" stroke="#2c2520" stroke-width="0.8"/>
<circle cx="812.00" cy="271.50" r="2.9" fill="#a7b6e6" stroke="#2c2520" stroke-width="0.8"/>
<circle cx="815.57" cy="271.50" r="2.9" fill="#a7b6e6" stroke="#2c2520" stroke-width="0.8"/>
<circle cx="819.14" cy="271.50" r="2.9" fill="#a7b6e6" stroke="#2c2520" stroke-width="0.8"/>
<circle cx="822.71" cy="271.50" r="2.9" fill="#a7b6e6" stroke="#2c2520" stroke-width="0.8"/>
<circle cx="812.00" cy="309.40" r="2.9" fill="#a7b6e6" stroke="#2c2520" stroke-width="0.8"/>
<circle cx="842.86" cy="138.85" r="2.9" fill="#a7b6e6" stroke="#2c2520" stroke-width="0.8"/>
<circle cx="847.09" cy="138.85" r="2.9" fill="#a7b6e6" stroke="#2c2520" stroke-width="0.8"/>
<circle cx="851.32" cy="138.85" r="2.9" fill="#a7b6e6" stroke="#2c2520" stroke-width="0.8"/>
<circle cx="855.55" cy="138.85" r="2.9" fill="#a7b6e6" stroke="#2c2520" stroke-width="0.8"/>
<circle cx="845.40" cy="157.80" r="2.9" fill="#a7b6e6" stroke="#2c2520" stroke-width="0.8"/>
<circle cx="849.20" cy="157.80" r="2.9" fill="#a7b6e6" stroke="#2c2520" stroke-width="0.8"/>
<circle cx="853.00" cy="157.80" r="2.9" fill="#a7b6e6" stroke="#2c2520" stroke-width="0.8"/>
<circle cx="838.70" cy="176.75" r="2.9" fill="#a7b6e6" stroke="#2c2520" stroke-width="0.8"/>
<circle cx="842.20" cy="176.75" r="2.9" fill="#a7b6e6" stroke="#2c2520" stroke-width="0.8"/>
<circle cx="845.70" cy="176.75" r="2.9" fill="#a7b6e6" stroke="#2c2520" stroke-width="0.8"/>
<circle cx="849.20" cy="176.75" r="2.9" fill="#a7b6e6" stroke="#2c2520" stroke-width="0.8"/>
<circle cx="852.70" cy="176.75" r="2.9" fill="#a7b6e6" stroke="#2c2520" stroke-width="0.8"/>
<circle cx="856.20" cy="176.75" r="2.9" fill="#a7b6e6" stroke="#2c2520" stroke-width="0.8"/>
<circle cx="859.70" cy="176.75" r="2.9" fill="#a7b6e6" stroke="#2c2520" stroke-width="0.8"/>
<circle cx="847.75" cy="195.70" r="2.9" fill="#a7b6e6" stroke="#2c2520" stroke-width="0.8"/>
<circle cx="850.65" cy="195.70" r="2.9" fill="#a7b6e6" stroke="#2c2520" stroke-width="0.8"/>
<circle cx="849.20" cy="214.65" r="2.9" fill="#a7b6e6" stroke="#2c2520" stroke-width="0.8"/>
<circle cx="842.90" cy="233.60" r="2.9" fill="#a7b6e6" stroke="#2c2520" stroke-width="0.8"/>
<circle cx="847.10" cy="233.60" r="2.9" fill="#a7b6e6" stroke="#2c2520" stroke-width="0.8"/>
<circle cx="851.30" cy="233.60" r="2.9" fill="#a7b6e6" stroke="#2c2520" stroke-width="0.8"/>
<circle cx="855.50" cy="233.60" r="2.9" fill="#a7b6e6" stroke="#2c2520" stroke-width="0.8"/>
<circle cx="882.75" cy="100.95" r="2.9" fill="#a7b6e6" stroke="#2c2520" stroke-width="0.8"/>
<circle cx="888.25" cy="100.95" r="2.9" fill="#a7b6e6" stroke="#2c2520" stroke-width="0.8"/>
<circle cx="877.40" cy="119.90" r="2.9" fill="#a7b6e6" stroke="#2c2520" stroke-width="0.8"/>
<circle cx="882.80" cy="119.90" r="2.9" fill="#a7b6e6" stroke="#2c2520" stroke-width="0.8"/>
<circle cx="888.20" cy="119.90" r="2.9" fill="#a7b6e6" stroke="#2c2520" stroke-width="0.8"/>
<circle cx="893.60" cy="119.90" r="2.9" fill="#a7b6e6" stroke="#2c2520" stroke-width="0.8"/>
<circle cx="874.50" cy="138.85" r="2.9" fill="#a7b6e6" stroke="#2c2520" stroke-width="0.8"/>
<circle cx="880.00" cy="138.85" r="2.9" fill="#a7b6e6" stroke="#2c2520" stroke-width="0.8"/>
<circle cx="885.50" cy="138.85" r="2.9" fill="#a7b6e6" stroke="#2c2520" stroke-width="0.8"/>
<circle cx="891.00" cy="138.85" r="2.9" fill="#a7b6e6" stroke="#2c2520" stroke-width="0.8"/>
<circle cx="896.50" cy="138.85" r="2.9" fill="#a7b6e6" stroke="#2c2520" stroke-width="0.8"/>
<circle cx="874.50" cy="157.80" r="2.9" fill="#a7b6e6" stroke="#2c2520" stroke-width="0.8"/>
<circle cx="880.00" cy="157.80" r="2.9" fill="#a7b6e6" stroke="#2c2520" stroke-width="0.8"/>
<circle cx="885.50" cy="157.80" r="2.9" fill="#a7b6e6" stroke="#2c2520" stroke-width="0.8"/>
<circle cx="891.00" cy="157.80" r="2.9" fill="#a7b6e6" stroke="#2c2520" stroke-width="0.8"/>
<circle cx="896.50" cy="157.80" r="2.9" fill="#a7b6e6" stroke="#2c2520" stroke-width="0.8"/>
<circle cx="877.25" cy="176.75" r="2.9" fill="#a7b6e6" stroke="#2c2520" stroke-width="0.8"/>
<circle cx="882.75" cy="176.75" r="2.9" fill="#a7b6e6" stroke="#2c2520" stroke-width="0.8"/>
<circle cx="888.25" cy="176.75" r="2.9" fill="#a7b6e6" stroke="#2c2520" stroke-width="0.8"/>
<circle cx="893.75" cy="176.75" r="2.9" fill="#a7b6e6" stroke="#2c2520" stroke-width="0.8"/>
<circle cx="921.00" cy="82.00" r="2.9" fill="#a7b6e6" stroke="#2c2520" stroke-width="0.8"/>
<circle cx="924.40" cy="82.00" r="2.9" fill="#a7b6e6" stroke="#2c2520" stroke-width="0.8"/>
<circle cx="911.74" cy="100.95" r="2.9" fill="#a7b6e6" stroke="#2c2520" stroke-width="0.8"/>
<circle cx="914.48" cy="100.95" r="2.9" fill="#a7b6e6" stroke="#2c2520" stroke-width="0.8"/>
<circle cx="917.22" cy="100.95" r="2.9" fill="#a7b6e6" stroke="#2c2520" stroke-width="0.8"/>
<circle cx="919.96" cy="100.95" r="2.9" fill="#a7b6e6" stroke="#2c2520" stroke-width="0.8"/>
<circle cx="922.70" cy="100.95" r="2.9" fill="#a7b6e6" stroke="#2c2520" stroke-width="0.8"/>
<circle cx="925.44" cy="100.95" r="2.9" fill="#a7b6e6" stroke="#2c2520" stroke-width="0.8"/>
<circle cx="928.18" cy="100.95" r="2.9" fill="#a7b6e6" stroke="#2c2520" stroke-width="0.8"/>
<circle cx="930.92" cy="100.95" r="2.9" fill="#a7b6e6" stroke="#2c2520" stroke-width="0.8"/>
<circle cx="933.66" cy="100.95" r="2.9" fill="#a7b6e6" stroke="#2c2520" stroke-width="0.8"/>
<circle cx="920.10" cy="119.90" r="2.9" fill="#a7b6e6" stroke="#2c2520" stroke-width="0.8"/>
<circle cx="922.70" cy="119.90" r="2.9" fill="#a7b6e6" stroke="#2c2520" stroke-width="0.8"/>
<circle cx="925.30" cy="119.90" r="2.9" fill="#a7b6e6" stroke="#2c2520" stroke-width="0.8"/>
<circle cx="918.85" cy="138.85" r="2.9" fill="#a7b6e6" stroke="#2c2520" stroke-width="0.8"/>
<circle cx="921.42" cy="138.85" r="2.9" fill="#a7b6e6" stroke="#2c2520" stroke-width="0.8"/>
<circle cx="923.99" cy="138.85" r="2.9" fill="#a7b6e6" stroke="#2c2520" stroke-width="0.8"/>
<circle cx="926.56" cy="138.85" r="2.9" fill="#a7b6e6" stroke="#2c2520" stroke-width="0.8"/>
<circle cx="922.70" cy="157.80" r="2.9" fill="#a7b6e6" stroke="#2c2520" stroke-width="0.8"/>
<circle cx="922.70" cy="176.75" r="2.9" fill="#a7b6e6" stroke="#2c2520" stroke-width="0.8"/>
<circle cx="991.70" cy="214.65" r="2.9" fill="#a7b6e6" stroke="#2c2520" stroke-width="0.8"/>
<circle cx="997.30" cy="214.65" r="2.9" fill="#a7b6e6" stroke="#2c2520" stroke-width="0.8"/>
<circle cx="1002.90" cy="214.65" r="2.9" fill="#a7b6e6" stroke="#2c2520" stroke-width="0.8"/>
<circle cx="997.30" cy="233.60" r="2.9" fill="#a7b6e6" stroke="#2c2520" stroke-width="0.8"/>
<circle cx="991.70" cy="252.55" r="2.9" fill="#a7b6e6" stroke="#2c2520" stroke-width="0.8"/>
<circle cx="997.30" cy="252.55" r="2.9" fill="#a7b6e6" stroke="#2c2520" stroke-width="0.8"/>
<circle cx="1002.90" cy="252.55" r="2.9" fill="#a7b6e6" stroke="#2c2520" stroke-width="0.8"/>
<circle cx="988.97" cy="271.50" r="2.9" fill="#a7b6e6" stroke="#2c2520" stroke-width="0.8"/>
<circle cx="994.52" cy="271.50" r="2.9" fill="#a7b6e6" stroke="#2c2520" stroke-width="0.8"/>
<circle cx="1000.07" cy="271.50" r="2.9" fill="#a7b6e6" stroke="#2c2520" stroke-width="0.8"/>
<circle cx="1005.62" cy="271.50" r="2.9" fill="#a7b6e6" stroke="#2c2520" stroke-width="0.8"/>
<circle cx="988.97" cy="290.45" r="2.9" fill="#a7b6e6" stroke="#2c2520" stroke-width="0.8"/>
<circle cx="994.52" cy="290.45" r="2.9" fill="#a7b6e6" stroke="#2c2520" stroke-width="0.8"/>
<circle cx="1000.07" cy="290.45" r="2.9" fill="#a7b6e6" stroke="#2c2520" stroke-width="0.8"/>
<circle cx="1005.62" cy="290.45" r="2.9" fill="#a7b6e6" stroke="#2c2520" stroke-width="0.8"/>
<circle cx="986.20" cy="309.40" r="2.9" fill="#a7b6e6" stroke="#2c2520" stroke-width="0.8"/>
<circle cx="991.75" cy="309.40" r="2.9" fill="#a7b6e6" stroke="#2c2520" stroke-width="0.8"/>
<circle cx="997.30" cy="309.40" r="2.9" fill="#a7b6e6" stroke="#2c2520" stroke-width="0.8"/>
<circle cx="1002.85" cy="309.40" r="2.9" fill="#a7b6e6" stroke="#2c2520" stroke-width="0.8"/>
<circle cx="1008.40" cy="309.40" r="2.9" fill="#a7b6e6" stroke="#2c2520" stroke-width="0.8"/>
<circle cx="1029.60" cy="138.85" r="2.9" fill="#a7b6e6" stroke="#2c2520" stroke-width="0.8"/>
<circle cx="1034.40" cy="138.85" r="2.9" fill="#a7b6e6" stroke="#2c2520" stroke-width="0.8"/>
<circle cx="1021.20" cy="157.80" r="2.9" fill="#a7b6e6" stroke="#2c2520" stroke-width="0.8"/>
<circle cx="1026.60" cy="157.80" r="2.9" fill="#a7b6e6" stroke="#2c2520" stroke-width="0.8"/>
<circle cx="1032.00" cy="157.80" r="2.9" fill="#a7b6e6" stroke="#2c2520" stroke-width="0.8"/>
<circle cx="1037.40" cy="157.80" r="2.9" fill="#a7b6e6" stroke="#2c2520" stroke-width="0.8"/>
<circle cx="1042.80" cy="157.80" r="2.9" fill="#a7b6e6" stroke="#2c2520" stroke-width="0.8"/>
<circle cx="1026.35" cy="176.75" r="2.9" fill="#a7b6e6" stroke="#2c2520" stroke-width="0.8"/>
<circle cx="1032.00" cy="176.75" r="2.9" fill="#a7b6e6" stroke="#2c2520" stroke-width="0.8"/>
<circle cx="1037.65" cy="176.75" r="2.9" fill="#a7b6e6" stroke="#2c2520" stroke-width="0.8"/>
<circle cx="1020.80" cy="195.70" r="2.9" fill="#a7b6e6" stroke="#2c2520" stroke-width="0.8"/>
<circle cx="1026.40" cy="195.70" r="2.9" fill="#a7b6e6" stroke="#2c2520" stroke-width="0.8"/>
<circle cx="1032.00" cy="195.70" r="2.9" fill="#a7b6e6" stroke="#2c2520" stroke-width="0.8"/>
<circle cx="1037.60" cy="195.70" r="2.9" fill="#a7b6e6" stroke="#2c2520" stroke-width="0.8"/>
<circle cx="1043.20" cy="195.70" r="2.9" fill="#a7b6e6" stroke="#2c2520" stroke-width="0.8"/>
<circle cx="1029.25" cy="233.60" r="2.9" fill="#a7b6e6" stroke="#2c2520" stroke-width="0.8"/>
<circle cx="1034.75" cy="233.60" r="2.9" fill="#a7b6e6" stroke="#2c2520" stroke-width="0.8"/>
<circle cx="1029.25" cy="252.55" r="2.9" fill="#a7b6e6" stroke="#2c2520" stroke-width="0.8"/>
<circle cx="1034.75" cy="252.55" r="2.9" fill="#a7b6e6" stroke="#2c2520" stroke-width="0.8"/>
<circle cx="1032.00" cy="271.50" r="2.9" fill="#a7b6e6" stroke="#2c2520" stroke-width="0.8"/>
<circle cx="1067.05" cy="100.95" r="2.9" fill="#a7b6e6" stroke="#2c2520" stroke-width="0.8"/>
<circle cx="1070.75" cy="100.95" r="2.9" fill="#a7b6e6" stroke="#2c2520" stroke-width="0.8"/>
<circle cx="1058.30" cy="119.90" r="2.9" fill="#a7b6e6" stroke="#2c2520" stroke-width="0.8"/>
<circle cx="1062.54" cy="119.90" r="2.9" fill="#a7b6e6" stroke="#2c2520" stroke-width="0.8"/>
<circle cx="1066.78" cy="119.90" r="2.9" fill="#a7b6e6" stroke="#2c2520" stroke-width="0.8"/>
<circle cx="1071.02" cy="119.90" r="2.9" fill="#a7b6e6" stroke="#2c2520" stroke-width="0.8"/>
<circle cx="1075.26" cy="119.90" r="2.9" fill="#a7b6e6" stroke="#2c2520" stroke-width="0.8"/>
<circle cx="1079.50" cy="119.90" r="2.9" fill="#a7b6e6" stroke="#2c2520" stroke-width="0.8"/>
<circle cx="1062.90" cy="138.85" r="2.9" fill="#a7b6e6" stroke="#2c2520" stroke-width="0.8"/>
<circle cx="1066.90" cy="138.85" r="2.9" fill="#a7b6e6" stroke="#2c2520" stroke-width="0.8"/>
<circle cx="1070.90" cy="138.85" r="2.9" fill="#a7b6e6" stroke="#2c2520" stroke-width="0.8"/>
<circle cx="1074.90" cy="138.85" r="2.9" fill="#a7b6e6" stroke="#2c2520" stroke-width="0.8"/>
<circle cx="1064.70" cy="157.80" r="2.9" fill="#a7b6e6" stroke="#2c2520" stroke-width="0.8"/>
<circle cx="1068.90" cy="157.80" r="2.9" fill="#a7b6e6" stroke="#2c2520" stroke-width="0.8"/>
<circle cx="1073.10" cy="157.80" r="2.9" fill="#a7b6e6" stroke="#2c2520" stroke-width="0.8"/>
<circle cx="1064.50" cy="176.75" r="2.9" fill="#a7b6e6" stroke="#2c2520" stroke-width="0.8"/>
<circle cx="1068.90" cy="176.75" r="2.9" fill="#a7b6e6" stroke="#2c2520" stroke-width="0.8"/>
<circle cx="1073.30" cy="176.75" r="2.9" fill="#a7b6e6" stroke="#2c2520" stroke-width="0.8"/>
<circle cx="1095.65" cy="100.95" r="2.9" fill="#a7b6e6" stroke="#2c2520" stroke-width="0.8"/>
<circle cx="1099.19" cy="100.95" r="2.9" fill="#a7b6e6" stroke="#2c2520" stroke-width="0.8"/>
<circle cx="1102.73" cy="100.95" r="2.9" fill="#a7b6e6" stroke="#2c2520" stroke-width="0.8"/>
<circle cx="1106.27" cy="100.95" r="2.9" fill="#a7b6e6" stroke="#2c2520" stroke-width="0.8"/>
<circle cx="1109.81" cy="100.95" r="2.9" fill="#a7b6e6" stroke="#2c2520" stroke-width="0.8"/>
<circle cx="1113.35" cy="100.95" r="2.9" fill="#a7b6e6" stroke="#2c2520" stroke-width="0.8"/>
<circle cx="1093.91" cy="119.90" r="2.9" fill="#a7b6e6" stroke="#2c2520" stroke-width="0.8"/>
<circle cx="1097.44" cy="119.90" r="2.9" fill="#a7b6e6" stroke="#2c2520" stroke-width="0.8"/>
<circle cx="1100.97" cy="119.90" r="2.9" fill="#a7b6e6" stroke="#2c2520" stroke-width="0.8"/>
<circle cx="1104.50" cy="119.90" r="2.9" fill="#a7b6e6" stroke="#2c2520" stroke-width="0.8"/>
<circle cx="1108.03" cy="119.90" r="2.9" fill="#a7b6e6" stroke="#2c2520" stroke-width="0.8"/>
<circle cx="1111.56" cy="119.90" r="2.9" fill="#a7b6e6" stroke="#2c2520" stroke-width="0.8"/>
<circle cx="1115.09" cy="119.90" r="2.9" fill="#a7b6e6" stroke="#2c2520" stroke-width="0.8"/>
<circle cx="1097.60" cy="138.85" r="2.9" fill="#a7b6e6" stroke="#2c2520" stroke-width="0.8"/>
<circle cx="1101.05" cy="138.85" r="2.9" fill="#a7b6e6" stroke="#2c2520" stroke-width="0.8"/>
<circle cx="1104.50" cy="138.85" r="2.9" fill="#a7b6e6" stroke="#2c2520" stroke-width="0.8"/>
<circle cx="1107.95" cy="138.85" r="2.9" fill="#a7b6e6" stroke="#2c2520" stroke-width="0.8"/>
<circle cx="1111.40" cy="138.85" r="2.9" fill="#a7b6e6" stroke="#2c2520" stroke-width="0.8"/>
<circle cx="1104.50" cy="157.80" r="2.9" fill="#a7b6e6" stroke="#2c2520" stroke-width="0.8"/>
<circle cx="1104.50" cy="176.75" r="2.9" fill="#a7b6e6" stroke="#2c2520" stroke-width="0.8"/>
<circle cx="1066.60" cy="195.70" r="2.9" fill="#a7b6e6" stroke="#2c2520" stroke-width="0.8"/>
<circle cx="1070.80" cy="201.90" r="2.9" fill="#a7b6e6" stroke="#2c2520" stroke-width="0.8"/>
<line x1="1160.80" y1="178.20" x2="1160.80" y2="187.80" stroke="#281c10" stroke-width="1.45" />
<line x1="1147.00" y1="182.90" x2="1174.60" y2="182.90" stroke="#281c10" stroke-width="1.5" />
<line x1="1154.00" y1="178.20" x2="1167.60" y2="178.20" stroke="#281c10" stroke-width="1.5" />
<line x1="1154.00" y1="187.80" x2="1167.60" y2="187.80" stroke="#281c10" stroke-width="1.5" />
<circle cx="1160.05" cy="82.00" r="2.9" fill="#f7b79d" stroke="#2b1408" stroke-width="1.05"/>
<circle cx="1160.95" cy="82.00" r="2.9" fill="#f7b79d" stroke="#2b1408" stroke-width="1.05"/>
<circle cx="1159.00" cy="100.95" r="2.9" fill="#f7b79d" stroke="#2b1408" stroke-width="1.05"/>
<circle cx="1160.50" cy="100.95" r="2.9" fill="#f7b79d" stroke="#2b1408" stroke-width="1.05"/>
<circle cx="1162.00" cy="100.95" r="2.9" fill="#f7b79d" stroke="#2b1408" stroke-width="1.05"/>
<circle cx="1152.85" cy="119.90" r="2.9" fill="#f7b79d" stroke="#2b1408" stroke-width="1.05"/>
<circle cx="1155.91" cy="119.90" r="2.9" fill="#f7b79d" stroke="#2b1408" stroke-width="1.05"/>
<circle cx="1158.97" cy="119.90" r="2.9" fill="#f7b79d" stroke="#2b1408" stroke-width="1.05"/>
<circle cx="1162.03" cy="119.90" r="2.9" fill="#f7b79d" stroke="#2b1408" stroke-width="1.05"/>
<circle cx="1165.09" cy="119.90" r="2.9" fill="#f7b79d" stroke="#2b1408" stroke-width="1.05"/>
<circle cx="1168.15" cy="119.90" r="2.9" fill="#f7b79d" stroke="#2b1408" stroke-width="1.05"/>
<circle cx="1150.60" cy="138.85" r="2.9" fill="#f7b79d" stroke="#2b1408" stroke-width="1.05"/>
<circle cx="1152.80" cy="138.85" r="2.9" fill="#f7b79d" stroke="#2b1408" stroke-width="1.05"/>
<circle cx="1155.00" cy="138.85" r="2.9" fill="#f7b79d" stroke="#2b1408" stroke-width="1.05"/>
<circle cx="1157.20" cy="138.85" r="2.9" fill="#f7b79d" stroke="#2b1408" stroke-width="1.05"/>
<circle cx="1159.40" cy="138.85" r="2.9" fill="#f7b79d" stroke="#2b1408" stroke-width="1.05"/>
<circle cx="1161.60" cy="138.85" r="2.9" fill="#f7b79d" stroke="#2b1408" stroke-width="1.05"/>
<circle cx="1163.80" cy="138.85" r="2.9" fill="#f7b79d" stroke="#2b1408" stroke-width="1.05"/>
<circle cx="1166.00" cy="138.85" r="2.9" fill="#f7b79d" stroke="#2b1408" stroke-width="1.05"/>
<circle cx="1168.20" cy="138.85" r="2.9" fill="#f7b79d" stroke="#2b1408" stroke-width="1.05"/>
<circle cx="1170.40" cy="138.85" r="2.9" fill="#f7b79d" stroke="#2b1408" stroke-width="1.05"/>
<circle cx="1149.94" cy="157.80" r="2.9" fill="#f7b79d" stroke="#2b1408" stroke-width="1.05"/>
<circle cx="1151.86" cy="157.80" r="2.9" fill="#f7b79d" stroke="#2b1408" stroke-width="1.05"/>
<circle cx="1153.78" cy="157.80" r="2.9" fill="#f7b79d" stroke="#2b1408" stroke-width="1.05"/>
<circle cx="1155.70" cy="157.80" r="2.9" fill="#f7b79d" stroke="#2b1408" stroke-width="1.05"/>
<circle cx="1157.62" cy="157.80" r="2.9" fill="#f7b79d" stroke="#2b1408" stroke-width="1.05"/>
<circle cx="1159.54" cy="157.80" r="2.9" fill="#f7b79d" stroke="#2b1408" stroke-width="1.05"/>
<circle cx="1161.46" cy="157.80" r="2.9" fill="#f7b79d" stroke="#2b1408" stroke-width="1.05"/>
<circle cx="1163.38" cy="157.80" r="2.9" fill="#f7b79d" stroke="#2b1408" stroke-width="1.05"/>
<circle cx="1165.30" cy="157.80" r="2.9" fill="#f7b79d" stroke="#2b1408" stroke-width="1.05"/>
<circle cx="1167.22" cy="157.80" r="2.9" fill="#f7b79d" stroke="#2b1408" stroke-width="1.05"/>
<circle cx="1169.14" cy="157.80" r="2.9" fill="#f7b79d" stroke="#2b1408" stroke-width="1.05"/>
<circle cx="1171.06" cy="157.80" r="2.9" fill="#f7b79d" stroke="#2b1408" stroke-width="1.05"/>
<circle cx="1153.85" cy="176.75" r="2.9" fill="#f7b79d" stroke="#2b1408" stroke-width="1.05"/>
<circle cx="1155.75" cy="176.75" r="2.9" fill="#f7b79d" stroke="#2b1408" stroke-width="1.05"/>
<circle cx="1157.65" cy="176.75" r="2.9" fill="#f7b79d" stroke="#2b1408" stroke-width="1.05"/>
<circle cx="1159.55" cy="176.75" r="2.9" fill="#f7b79d" stroke="#2b1408" stroke-width="1.05"/>
<circle cx="1161.45" cy="176.75" r="2.9" fill="#f7b79d" stroke="#2b1408" stroke-width="1.05"/>
<circle cx="1163.35" cy="176.75" r="2.9" fill="#f7b79d" stroke="#2b1408" stroke-width="1.05"/>
<circle cx="1165.25" cy="176.75" r="2.9" fill="#f7b79d" stroke="#2b1408" stroke-width="1.05"/>
<circle cx="1167.15" cy="176.75" r="2.9" fill="#f7b79d" stroke="#2b1408" stroke-width="1.05"/>
<circle cx="1154.00" cy="195.70" r="2.9" fill="#f7b79d" stroke="#2b1408" stroke-width="1.05"/>
<circle cx="1156.60" cy="195.70" r="2.9" fill="#f7b79d" stroke="#2b1408" stroke-width="1.05"/>
<circle cx="1159.20" cy="195.70" r="2.9" fill="#f7b79d" stroke="#2b1408" stroke-width="1.05"/>
<circle cx="1161.80" cy="195.70" r="2.9" fill="#f7b79d" stroke="#2b1408" stroke-width="1.05"/>
<circle cx="1164.40" cy="195.70" r="2.9" fill="#f7b79d" stroke="#2b1408" stroke-width="1.05"/>
<circle cx="1167.00" cy="195.70" r="2.9" fill="#f7b79d" stroke="#2b1408" stroke-width="1.05"/>
<circle cx="1157.35" cy="214.65" r="2.9" fill="#f7b79d" stroke="#2b1408" stroke-width="1.05"/>
<circle cx="1160.50" cy="214.65" r="2.9" fill="#f7b79d" stroke="#2b1408" stroke-width="1.05"/>
<circle cx="1163.65" cy="214.65" r="2.9" fill="#f7b79d" stroke="#2b1408" stroke-width="1.05"/>
<circle cx="1158.50" cy="233.60" r="2.9" fill="#f7b79d" stroke="#2b1408" stroke-width="1.05"/>
<circle cx="1160.50" cy="233.60" r="2.9" fill="#f7b79d" stroke="#2b1408" stroke-width="1.05"/>
<circle cx="1162.50" cy="233.60" r="2.9" fill="#f7b79d" stroke="#2b1408" stroke-width="1.05"/>
<circle cx="1159.70" cy="252.55" r="2.9" fill="#f7b79d" stroke="#2b1408" stroke-width="1.05"/>
<circle cx="1161.30" cy="252.55" r="2.9" fill="#f7b79d" stroke="#2b1408" stroke-width="1.05"/>
<circle cx="1151.80" cy="309.40" r="2.9" fill="#f7b79d" stroke="#2b1408" stroke-width="1.05"/>
<circle cx="1154.70" cy="309.40" r="2.9" fill="#f7b79d" stroke="#2b1408" stroke-width="1.05"/>
<circle cx="1157.60" cy="309.40" r="2.9" fill="#f7b79d" stroke="#2b1408" stroke-width="1.05"/>
<circle cx="1160.50" cy="309.40" r="2.9" fill="#f7b79d" stroke="#2b1408" stroke-width="1.05"/>
<circle cx="1163.40" cy="309.40" r="2.9" fill="#f7b79d" stroke="#2b1408" stroke-width="1.05"/>
<circle cx="1166.30" cy="309.40" r="2.9" fill="#f7b79d" stroke="#2b1408" stroke-width="1.05"/>
<circle cx="1169.20" cy="309.40" r="2.9" fill="#f7b79d" stroke="#2b1408" stroke-width="1.05"/>
<line x1="1147.00" y1="182.90" x2="1174.60" y2="182.90" stroke="#281c10" stroke-width="1.35" />
<line x1="812.00" y1="227.00" x2="812.00" y2="262.30" stroke="#281c10" stroke-width="1.45" />
<line x1="798.25" y1="244.80" x2="825.75" y2="244.80" stroke="#281c10" stroke-width="1.5" />
<line x1="805.25" y1="227.00" x2="818.75" y2="227.00" stroke="#281c10" stroke-width="1.5" />
<line x1="805.25" y1="262.30" x2="818.75" y2="262.30" stroke="#281c10" stroke-width="1.5" />
<line x1="849.20" y1="165.60" x2="849.20" y2="197.10" stroke="#281c10" stroke-width="1.45" />
<line x1="835.45" y1="181.40" x2="862.95" y2="181.40" stroke="#281c10" stroke-width="1.5" />
<line x1="842.45" y1="165.60" x2="855.95" y2="165.60" stroke="#281c10" stroke-width="1.5" />
<line x1="842.45" y1="197.10" x2="855.95" y2="197.10" stroke="#281c10" stroke-width="1.5" />
<line x1="885.50" y1="131.70" x2="885.50" y2="154.60" stroke="#281c10" stroke-width="1.45" />
<line x1="871.75" y1="143.60" x2="899.25" y2="143.60" stroke="#281c10" stroke-width="1.5" />
<line x1="878.75" y1="131.70" x2="892.25" y2="131.70" stroke="#281c10" stroke-width="1.5" />
<line x1="878.75" y1="154.60" x2="892.25" y2="154.60" stroke="#281c10" stroke-width="1.5" />
<line x1="922.70" y1="104.20" x2="922.70" y2="127.70" stroke="#281c10" stroke-width="1.45" />
<line x1="908.95" y1="115.70" x2="936.45" y2="115.70" stroke="#281c10" stroke-width="1.5" />
<line x1="915.95" y1="104.20" x2="929.45" y2="104.20" stroke="#281c10" stroke-width="1.5" />
<line x1="915.95" y1="127.70" x2="929.45" y2="127.70" stroke="#281c10" stroke-width="1.5" />
<line x1="997.30" y1="255.80" x2="997.30" y2="286.80" stroke="#281c10" stroke-width="1.45" />
<line x1="983.55" y1="271.40" x2="1011.05" y2="271.40" stroke="#281c10" stroke-width="1.5" />
<line x1="990.55" y1="255.80" x2="1004.05" y2="255.80" stroke="#281c10" stroke-width="1.5" />
<line x1="990.55" y1="286.80" x2="1004.05" y2="286.80" stroke="#281c10" stroke-width="1.5" />
<line x1="1032.00" y1="172.40" x2="1032.00" y2="209.20" stroke="#281c10" stroke-width="1.45" />
<line x1="1018.25" y1="190.70" x2="1045.75" y2="190.70" stroke="#281c10" stroke-width="1.5" />
<line x1="1025.25" y1="172.40" x2="1038.75" y2="172.40" stroke="#281c10" stroke-width="1.5" />
<line x1="1025.25" y1="209.20" x2="1038.75" y2="209.20" stroke="#281c10" stroke-width="1.5" />
<line x1="1068.90" y1="129.90" x2="1068.90" y2="157.60" stroke="#281c10" stroke-width="1.45" />
<line x1="1055.15" y1="143.80" x2="1082.65" y2="143.80" stroke="#281c10" stroke-width="1.5" />
<line x1="1062.15" y1="129.90" x2="1075.65" y2="129.90" stroke="#281c10" stroke-width="1.5" />
<line x1="1062.15" y1="157.60" x2="1075.65" y2="157.60" stroke="#281c10" stroke-width="1.5" />
<line x1="1104.50" y1="113.60" x2="1104.50" y2="133.30" stroke="#281c10" stroke-width="1.45" />
<line x1="1090.75" y1="123.30" x2="1118.25" y2="123.30" stroke="#281c10" stroke-width="1.5" />
<line x1="1097.75" y1="113.60" x2="1111.25" y2="113.60" stroke="#281c10" stroke-width="1.5" />
<line x1="1097.75" y1="133.30" x2="1111.25" y2="133.30" stroke="#281c10" stroke-width="1.5" />
<path d="M761.2,40.6 C761.2,37.1 763.2,35.9 767.7,35.9 L835.8,35.9 C843.8,35.9 848.0,33.9 849.8,30.6 C851.6,33.9 855.8,35.9 863.8,35.9 L930.3,35.9 C934.8,35.9 936.8,37.1 936.8,40.6" fill="none" stroke="#281c10" stroke-width="1.4" stroke-linecap="round"/>
<path d="M946.0,40.6 C946.0,37.1 948.0,35.9 952.5,35.9 L1020.8,35.9 C1028.8,35.9 1033.0,33.9 1034.8,30.6 C1036.6,33.9 1040.8,35.9 1048.8,35.9 L1116.7,35.9 C1121.2,35.9 1123.2,37.1 1123.2,40.6" fill="none" stroke="#281c10" stroke-width="1.4" stroke-linecap="round"/>
<line x1="236.10" y1="401.00" x2="236.10" y2="647.00" stroke="#47626e" stroke-width="1.4" stroke-dasharray="3.2 3.2"/>
<line x1="384.00" y1="401.00" x2="384.00" y2="647.00" stroke="#47626e" stroke-width="1.4" stroke-dasharray="3.2 3.2"/>
<line x1="531.70" y1="401.00" x2="531.70" y2="647.00" stroke="#47626e" stroke-width="1.4" stroke-dasharray="3.2 3.2"/>
<line x1="88.20" y1="398.90" x2="88.20" y2="648.10" stroke="#281c10" stroke-width="1.4" />
<line x1="87.70" y1="647.50" x2="681.70" y2="647.50" stroke="#281c10" stroke-width="1.4" />
<line x1="81.30" y1="612.07" x2="88.20" y2="612.07" stroke="#281c10" stroke-width="1.4" />
<line x1="81.30" y1="576.64" x2="88.20" y2="576.64" stroke="#281c10" stroke-width="1.4" />
<line x1="81.30" y1="541.21" x2="88.20" y2="541.21" stroke="#281c10" stroke-width="1.4" />
<line x1="81.30" y1="505.78" x2="88.20" y2="505.78" stroke="#281c10" stroke-width="1.4" />
<line x1="81.30" y1="470.35" x2="88.20" y2="470.35" stroke="#281c10" stroke-width="1.4" />
<line x1="81.30" y1="434.92" x2="88.20" y2="434.92" stroke="#281c10" stroke-width="1.4" />
<line x1="81.30" y1="399.49" x2="88.20" y2="399.49" stroke="#281c10" stroke-width="1.4" />
<line x1="110.00" y1="647.50" x2="110.00" y2="653.10" stroke="#281c10" stroke-width="1.4" />
<line x1="162.00" y1="647.50" x2="162.00" y2="653.10" stroke="#281c10" stroke-width="1.4" />
<line x1="213.50" y1="647.50" x2="213.50" y2="653.10" stroke="#281c10" stroke-width="1.4" />
<line x1="260.00" y1="647.50" x2="260.00" y2="653.10" stroke="#281c10" stroke-width="1.4" />
<line x1="310.00" y1="647.50" x2="310.00" y2="653.10" stroke="#281c10" stroke-width="1.4" />
<line x1="359.25" y1="647.50" x2="359.25" y2="653.10" stroke="#281c10" stroke-width="1.4" />
<line x1="405.00" y1="647.50" x2="405.00" y2="653.10" stroke="#281c10" stroke-width="1.4" />
<line x1="456.00" y1="647.50" x2="456.00" y2="653.10" stroke="#281c10" stroke-width="1.4" />
<line x1="507.25" y1="647.50" x2="507.25" y2="653.10" stroke="#281c10" stroke-width="1.4" />
<line x1="560.60" y1="647.50" x2="560.60" y2="653.10" stroke="#281c10" stroke-width="1.4" />
<line x1="611.20" y1="647.50" x2="611.20" y2="653.10" stroke="#281c10" stroke-width="1.4" />
<line x1="661.75" y1="647.50" x2="661.75" y2="653.10" stroke="#281c10" stroke-width="1.4" />
<circle cx="99.05" cy="647.50" r="2.9" fill="#a7b6e6" stroke="#2c2520" stroke-width="0.8"/>
<circle cx="102.04" cy="647.50" r="2.9" fill="#a7b6e6" stroke="#2c2520" stroke-width="0.8"/>
<circle cx="105.04" cy="647.50" r="2.9" fill="#a7b6e6" stroke="#2c2520" stroke-width="0.8"/>
<circle cx="108.03" cy="647.50" r="2.9" fill="#a7b6e6" stroke="#2c2520" stroke-width="0.8"/>
<circle cx="111.03" cy="647.50" r="2.9" fill="#a7b6e6" stroke="#2c2520" stroke-width="0.8"/>
<circle cx="114.02" cy="647.50" r="2.9" fill="#a7b6e6" stroke="#2c2520" stroke-width="0.8"/>
<circle cx="117.01" cy="647.50" r="2.9" fill="#a7b6e6" stroke="#2c2520" stroke-width="0.8"/>
<circle cx="120.01" cy="647.50" r="2.9" fill="#a7b6e6" stroke="#2c2520" stroke-width="0.8"/>
<circle cx="123.00" cy="647.50" r="2.9" fill="#a7b6e6" stroke="#2c2520" stroke-width="0.8"/>
<circle cx="98.90" cy="647.50" r="2.9" fill="#a7b6e6" stroke="#2c2520" stroke-width="0.8"/>
<circle cx="110.90" cy="647.50" r="2.9" fill="#a7b6e6" stroke="#2c2520" stroke-width="0.8"/>
<circle cx="120.00" cy="647.50" r="2.9" fill="#a7b6e6" stroke="#2c2520" stroke-width="0.8"/>
<circle cx="249.05" cy="647.50" r="2.9" fill="#a7b6e6" stroke="#2c2520" stroke-width="0.8"/>
<circle cx="252.04" cy="647.50" r="2.9" fill="#a7b6e6" stroke="#2c2520" stroke-width="0.8"/>
<circle cx="255.04" cy="647.50" r="2.9" fill="#a7b6e6" stroke="#2c2520" stroke-width="0.8"/>
<circle cx="258.03" cy="647.50" r="2.9" fill="#a7b6e6" stroke="#2c2520" stroke-width="0.8"/>
<circle cx="261.02" cy="647.50" r="2.9" fill="#a7b6e6" stroke="#2c2520" stroke-width="0.8"/>
<circle cx="264.02" cy="647.50" r="2.9" fill="#a7b6e6" stroke="#2c2520" stroke-width="0.8"/>
<circle cx="267.01" cy="647.50" r="2.9" fill="#a7b6e6" stroke="#2c2520" stroke-width="0.8"/>
<circle cx="270.01" cy="647.50" r="2.9" fill="#a7b6e6" stroke="#2c2520" stroke-width="0.8"/>
<circle cx="273.00" cy="647.50" r="2.9" fill="#a7b6e6" stroke="#2c2520" stroke-width="0.8"/>
<circle cx="248.90" cy="647.50" r="2.9" fill="#a7b6e6" stroke="#2c2520" stroke-width="0.8"/>
<circle cx="260.90" cy="647.50" r="2.9" fill="#a7b6e6" stroke="#2c2520" stroke-width="0.8"/>
<circle cx="270.00" cy="647.50" r="2.9" fill="#a7b6e6" stroke="#2c2520" stroke-width="0.8"/>
<circle cx="394.05" cy="647.50" r="2.9" fill="#a7b6e6" stroke="#2c2520" stroke-width="0.8"/>
<circle cx="397.04" cy="647.50" r="2.9" fill="#a7b6e6" stroke="#2c2520" stroke-width="0.8"/>
<circle cx="400.04" cy="647.50" r="2.9" fill="#a7b6e6" stroke="#2c2520" stroke-width="0.8"/>
<circle cx="403.03" cy="647.50" r="2.9" fill="#a7b6e6" stroke="#2c2520" stroke-width="0.8"/>
<circle cx="406.02" cy="647.50" r="2.9" fill="#a7b6e6" stroke="#2c2520" stroke-width="0.8"/>
<circle cx="409.02" cy="647.50" r="2.9" fill="#a7b6e6" stroke="#2c2520" stroke-width="0.8"/>
<circle cx="412.01" cy="647.50" r="2.9" fill="#a7b6e6" stroke="#2c2520" stroke-width="0.8"/>
<circle cx="415.01" cy="647.50" r="2.9" fill="#a7b6e6" stroke="#2c2520" stroke-width="0.8"/>
<circle cx="418.00" cy="647.50" r="2.9" fill="#a7b6e6" stroke="#2c2520" stroke-width="0.8"/>
<circle cx="393.90" cy="647.50" r="2.9" fill="#a7b6e6" stroke="#2c2520" stroke-width="0.8"/>
<circle cx="405.90" cy="647.50" r="2.9" fill="#a7b6e6" stroke="#2c2520" stroke-width="0.8"/>
<circle cx="415.00" cy="647.50" r="2.9" fill="#a7b6e6" stroke="#2c2520" stroke-width="0.8"/>
<circle cx="549.65" cy="647.50" r="2.9" fill="#a7b6e6" stroke="#2c2520" stroke-width="0.8"/>
<circle cx="552.64" cy="647.50" r="2.9" fill="#a7b6e6" stroke="#2c2520" stroke-width="0.8"/>
<circle cx="555.64" cy="647.50" r="2.9" fill="#a7b6e6" stroke="#2c2520" stroke-width="0.8"/>
<circle cx="558.63" cy="647.50" r="2.9" fill="#a7b6e6" stroke="#2c2520" stroke-width="0.8"/>
<circle cx="561.62" cy="647.50" r="2.9" fill="#a7b6e6" stroke="#2c2520" stroke-width="0.8"/>
<circle cx="564.62" cy="647.50" r="2.9" fill="#a7b6e6" stroke="#2c2520" stroke-width="0.8"/>
<circle cx="567.61" cy="647.50" r="2.9" fill="#a7b6e6" stroke="#2c2520" stroke-width="0.8"/>
<circle cx="570.61" cy="647.50" r="2.9" fill="#a7b6e6" stroke="#2c2520" stroke-width="0.8"/>
<circle cx="573.60" cy="647.50" r="2.9" fill="#a7b6e6" stroke="#2c2520" stroke-width="0.8"/>
<circle cx="549.50" cy="647.50" r="2.9" fill="#a7b6e6" stroke="#2c2520" stroke-width="0.8"/>
<circle cx="561.50" cy="647.50" r="2.9" fill="#a7b6e6" stroke="#2c2520" stroke-width="0.8"/>
<circle cx="570.60" cy="647.50" r="2.9" fill="#a7b6e6" stroke="#2c2520" stroke-width="0.8"/>
<circle cx="162.00" cy="507.20" r="2.9" fill="#a7b6e6" stroke="#2c2520" stroke-width="0.8"/>
<circle cx="162.00" cy="542.40" r="2.9" fill="#a7b6e6" stroke="#2c2520" stroke-width="0.8"/>
<circle cx="154.10" cy="577.60" r="2.9" fill="#a7b6e6" stroke="#2c2520" stroke-width="0.8"/>
<circle cx="162.00" cy="577.60" r="2.9" fill="#a7b6e6" stroke="#2c2520" stroke-width="0.8"/>
<circle cx="169.90" cy="577.60" r="2.9" fill="#a7b6e6" stroke="#2c2520" stroke-width="0.8"/>
<circle cx="150.30" cy="647.60" r="2.9" fill="#a7b6e6" stroke="#2c2520" stroke-width="0.8"/>
<circle cx="158.10" cy="647.60" r="2.9" fill="#a7b6e6" stroke="#2c2520" stroke-width="0.8"/>
<circle cx="165.90" cy="647.60" r="2.9" fill="#a7b6e6" stroke="#2c2520" stroke-width="0.8"/>
<circle cx="173.70" cy="647.60" r="2.9" fill="#a7b6e6" stroke="#2c2520" stroke-width="0.8"/>
<circle cx="213.50" cy="507.20" r="2.9" fill="#a7b6e6" stroke="#2c2520" stroke-width="0.8"/>
<circle cx="208.12" cy="542.40" r="2.9" fill="#a7b6e6" stroke="#2c2520" stroke-width="0.8"/>
<circle cx="218.88" cy="542.40" r="2.9" fill="#a7b6e6" stroke="#2c2520" stroke-width="0.8"/>
<circle cx="203.00" cy="577.60" r="2.9" fill="#a7b6e6" stroke="#2c2520" stroke-width="0.8"/>
<circle cx="213.50" cy="577.60" r="2.9" fill="#a7b6e6" stroke="#2c2520" stroke-width="0.8"/>
<circle cx="224.00" cy="577.60" r="2.9" fill="#a7b6e6" stroke="#2c2520" stroke-width="0.8"/>
<circle cx="203.00" cy="647.60" r="2.9" fill="#a7b6e6" stroke="#2c2520" stroke-width="0.8"/>
<circle cx="213.50" cy="647.60" r="2.9" fill="#a7b6e6" stroke="#2c2520" stroke-width="0.8"/>
<circle cx="224.00" cy="647.60" r="2.9" fill="#a7b6e6" stroke="#2c2520" stroke-width="0.8"/>
<circle cx="310.00" cy="436.80" r="2.9" fill="#a7b6e6" stroke="#2c2520" stroke-width="0.8"/>
<circle cx="306.12" cy="542.40" r="2.9" fill="#a7b6e6" stroke="#2c2520" stroke-width="0.8"/>
<circle cx="313.88" cy="542.40" r="2.9" fill="#a7b6e6" stroke="#2c2520" stroke-width="0.8"/>
<circle cx="306.12" cy="577.60" r="2.9" fill="#a7b6e6" stroke="#2c2520" stroke-width="0.8"/>
<circle cx="313.88" cy="577.60" r="2.9" fill="#a7b6e6" stroke="#2c2520" stroke-width="0.8"/>
<circle cx="298.30" cy="647.60" r="2.9" fill="#a7b6e6" stroke="#2c2520" stroke-width="0.8"/>
<circle cx="306.10" cy="647.60" r="2.9" fill="#a7b6e6" stroke="#2c2520" stroke-width="0.8"/>
<circle cx="313.90" cy="647.60" r="2.9" fill="#a7b6e6" stroke="#2c2520" stroke-width="0.8"/>
<circle cx="321.70" cy="647.60" r="2.9" fill="#a7b6e6" stroke="#2c2520" stroke-width="0.8"/>
<circle cx="359.25" cy="472.00" r="2.9" fill="#a7b6e6" stroke="#2c2520" stroke-width="0.8"/>
<circle cx="359.25" cy="507.20" r="2.9" fill="#a7b6e6" stroke="#2c2520" stroke-width="0.8"/>
<circle cx="347.40" cy="542.40" r="2.9" fill="#a7b6e6" stroke="#2c2520" stroke-width="0.8"/>
<circle cx="355.30" cy="542.40" r="2.9" fill="#a7b6e6" stroke="#2c2520" stroke-width="0.8"/>
<circle cx="363.20" cy="542.40" r="2.9" fill="#a7b6e6" stroke="#2c2520" stroke-width="0.8"/>
<circle cx="371.10" cy="542.40" r="2.9" fill="#a7b6e6" stroke="#2c2520" stroke-width="0.8"/>
<circle cx="351.35" cy="647.60" r="2.9" fill="#a7b6e6" stroke="#2c2520" stroke-width="0.8"/>
<circle cx="359.25" cy="647.60" r="2.9" fill="#a7b6e6" stroke="#2c2520" stroke-width="0.8"/>
<circle cx="367.15" cy="647.60" r="2.9" fill="#a7b6e6" stroke="#2c2520" stroke-width="0.8"/>
<circle cx="456.00" cy="507.20" r="2.9" fill="#a7b6e6" stroke="#2c2520" stroke-width="0.8"/>
<circle cx="456.00" cy="577.60" r="2.9" fill="#a7b6e6" stroke="#2c2520" stroke-width="0.8"/>
<circle cx="443.70" cy="647.60" r="2.9" fill="#a7b6e6" stroke="#2c2520" stroke-width="0.8"/>
<circle cx="447.80" cy="647.60" r="2.9" fill="#a7b6e6" stroke="#2c2520" stroke-width="0.8"/>
<circle cx="451.90" cy="647.60" r="2.9" fill="#a7b6e6" stroke="#2c2520" stroke-width="0.8"/>
<circle cx="456.00" cy="647.60" r="2.9" fill="#a7b6e6" stroke="#2c2520" stroke-width="0.8"/>
<circle cx="460.10" cy="647.60" r="2.9" fill="#a7b6e6" stroke="#2c2520" stroke-width="0.8"/>
<circle cx="464.20" cy="647.60" r="2.9" fill="#a7b6e6" stroke="#2c2520" stroke-width="0.8"/>
<circle cx="468.30" cy="647.60" r="2.9" fill="#a7b6e6" stroke="#2c2520" stroke-width="0.8"/>
<circle cx="507.25" cy="507.20" r="2.9" fill="#a7b6e6" stroke="#2c2520" stroke-width="0.8"/>
<circle cx="503.30" cy="542.40" r="2.9" fill="#a7b6e6" stroke="#2c2520" stroke-width="0.8"/>
<circle cx="511.20" cy="542.40" r="2.9" fill="#a7b6e6" stroke="#2c2520" stroke-width="0.8"/>
<circle cx="503.30" cy="577.60" r="2.9" fill="#a7b6e6" stroke="#2c2520" stroke-width="0.8"/>
<circle cx="511.20" cy="577.60" r="2.9" fill="#a7b6e6" stroke="#2c2520" stroke-width="0.8"/>
<circle cx="495.40" cy="647.60" r="2.9" fill="#a7b6e6" stroke="#2c2520" stroke-width="0.8"/>
<circle cx="503.30" cy="647.60" r="2.9" fill="#a7b6e6" stroke="#2c2520" stroke-width="0.8"/>
<circle cx="511.20" cy="647.60" r="2.9" fill="#a7b6e6" stroke="#2c2520" stroke-width="0.8"/>
<circle cx="519.10" cy="647.60" r="2.9" fill="#a7b6e6" stroke="#2c2520" stroke-width="0.8"/>
<circle cx="599.35" cy="542.40" r="2.9" fill="#a7b6e6" stroke="#2c2520" stroke-width="0.8"/>
<circle cx="607.25" cy="542.40" r="2.9" fill="#a7b6e6" stroke="#2c2520" stroke-width="0.8"/>
<circle cx="615.15" cy="542.40" r="2.9" fill="#a7b6e6" stroke="#2c2520" stroke-width="0.8"/>
<circle cx="623.05" cy="542.40" r="2.9" fill="#a7b6e6" stroke="#2c2520" stroke-width="0.8"/>
<circle cx="607.25" cy="577.60" r="2.9" fill="#a7b6e6" stroke="#2c2520" stroke-width="0.8"/>
<circle cx="615.15" cy="577.60" r="2.9" fill="#a7b6e6" stroke="#2c2520" stroke-width="0.8"/>
<circle cx="603.30" cy="647.60" r="2.9" fill="#a7b6e6" stroke="#2c2520" stroke-width="0.8"/>
<circle cx="611.20" cy="647.60" r="2.9" fill="#a7b6e6" stroke="#2c2520" stroke-width="0.8"/>
<circle cx="619.10" cy="647.60" r="2.9" fill="#a7b6e6" stroke="#2c2520" stroke-width="0.8"/>
<circle cx="656.50" cy="472.00" r="2.9" fill="#a7b6e6" stroke="#2c2520" stroke-width="0.8"/>
<circle cx="667.00" cy="472.00" r="2.9" fill="#a7b6e6" stroke="#2c2520" stroke-width="0.8"/>
<circle cx="651.25" cy="507.20" r="2.9" fill="#a7b6e6" stroke="#2c2520" stroke-width="0.8"/>
<circle cx="661.75" cy="507.20" r="2.9" fill="#a7b6e6" stroke="#2c2520" stroke-width="0.8"/>
<circle cx="672.25" cy="507.20" r="2.9" fill="#a7b6e6" stroke="#2c2520" stroke-width="0.8"/>
<circle cx="651.25" cy="577.60" r="2.9" fill="#a7b6e6" stroke="#2c2520" stroke-width="0.8"/>
<circle cx="661.75" cy="577.60" r="2.9" fill="#a7b6e6" stroke="#2c2520" stroke-width="0.8"/>
<circle cx="672.25" cy="577.60" r="2.9" fill="#a7b6e6" stroke="#2c2520" stroke-width="0.8"/>
<circle cx="661.75" cy="647.60" r="2.9" fill="#a7b6e6" stroke="#2c2520" stroke-width="0.8"/>
<line x1="162.00" y1="556.00" x2="162.00" y2="637.50" stroke="#281c10" stroke-width="1.45" />
<line x1="146.40" y1="596.50" x2="177.60" y2="596.50" stroke="#281c10" stroke-width="1.5" />
<line x1="154.20" y1="556.00" x2="169.80" y2="556.00" stroke="#281c10" stroke-width="1.5" />
<line x1="154.20" y1="637.50" x2="169.80" y2="637.50" stroke="#281c10" stroke-width="1.5" />
<line x1="213.50" y1="545.00" x2="213.50" y2="625.00" stroke="#281c10" stroke-width="1.45" />
<line x1="197.90" y1="585.00" x2="229.10" y2="585.00" stroke="#281c10" stroke-width="1.5" />
<line x1="205.70" y1="545.00" x2="221.30" y2="545.00" stroke="#281c10" stroke-width="1.5" />
<line x1="205.70" y1="625.00" x2="221.30" y2="625.00" stroke="#281c10" stroke-width="1.5" />
<line x1="310.00" y1="529.75" x2="310.00" y2="640.50" stroke="#281c10" stroke-width="1.45" />
<line x1="294.40" y1="585.00" x2="325.60" y2="585.00" stroke="#281c10" stroke-width="1.5" />
<line x1="302.20" y1="529.75" x2="317.80" y2="529.75" stroke="#281c10" stroke-width="1.5" />
<line x1="302.20" y1="640.50" x2="317.80" y2="640.50" stroke="#281c10" stroke-width="1.5" />
<line x1="359.25" y1="515.00" x2="359.25" y2="615.75" stroke="#281c10" stroke-width="1.45" />
<line x1="343.65" y1="565.50" x2="374.85" y2="565.50" stroke="#281c10" stroke-width="1.5" />
<line x1="351.45" y1="515.00" x2="367.05" y2="515.00" stroke="#281c10" stroke-width="1.5" />
<line x1="351.45" y1="615.75" x2="367.05" y2="615.75" stroke="#281c10" stroke-width="1.5" />
<line x1="456.00" y1="585.75" x2="456.00" y2="624.00" stroke="#281c10" stroke-width="1.45" />
<line x1="440.40" y1="624.00" x2="471.60" y2="624.00" stroke="#281c10" stroke-width="1.5" />
<line x1="448.20" y1="585.75" x2="463.80" y2="585.75" stroke="#281c10" stroke-width="1.5" />
<line x1="448.20" y1="624.00" x2="463.80" y2="624.00" stroke="#281c10" stroke-width="1.5" />
<line x1="507.25" y1="550.00" x2="507.25" y2="635.75" stroke="#281c10" stroke-width="1.45" />
<line x1="491.65" y1="593.00" x2="522.85" y2="593.00" stroke="#281c10" stroke-width="1.5" />
<line x1="499.45" y1="550.00" x2="515.05" y2="550.00" stroke="#281c10" stroke-width="1.5" />
<line x1="499.45" y1="635.75" x2="515.05" y2="635.75" stroke="#281c10" stroke-width="1.5" />
<line x1="611.20" y1="547.00" x2="611.20" y2="622.50" stroke="#281c10" stroke-width="1.45" />
<line x1="595.60" y1="585.00" x2="626.80" y2="585.00" stroke="#281c10" stroke-width="1.5" />
<line x1="603.40" y1="547.00" x2="619.00" y2="547.00" stroke="#281c10" stroke-width="1.5" />
<line x1="603.40" y1="622.50" x2="619.00" y2="622.50" stroke="#281c10" stroke-width="1.5" />
<line x1="661.75" y1="492.50" x2="661.75" y2="583.75" stroke="#281c10" stroke-width="1.45" />
<line x1="646.15" y1="538.00" x2="677.35" y2="538.00" stroke="#281c10" stroke-width="1.5" />
<line x1="653.95" y1="492.50" x2="669.55" y2="492.50" stroke="#281c10" stroke-width="1.5" />
<line x1="653.95" y1="583.75" x2="669.55" y2="583.75" stroke="#281c10" stroke-width="1.5" />
<rect x="293.10" y="525.10" width="36.00" height="128.65" fill="none" stroke="#0aab4b" stroke-width="4.0"/>
<rect x="489.10" y="525.10" width="36.00" height="128.65" fill="none" stroke="#0aab4b" stroke-width="4.0"/>
<line x1="941.30" y1="401.00" x2="941.30" y2="647.00" stroke="#47626e" stroke-width="1.4" stroke-dasharray="3.2 3.2"/>
<line x1="1125.00" y1="401.00" x2="1125.00" y2="647.00" stroke="#47626e" stroke-width="1.4" stroke-dasharray="3.2 3.2"/>
<line x1="759.40" y1="399.60" x2="759.40" y2="648.10" stroke="#281c10" stroke-width="1.4" />
<line x1="758.90" y1="647.50" x2="1194.50" y2="647.50" stroke="#281c10" stroke-width="1.4" />
<line x1="752.20" y1="616.59" x2="759.40" y2="616.59" stroke="#281c10" stroke-width="1.4" />
<line x1="752.20" y1="585.68" x2="759.40" y2="585.68" stroke="#281c10" stroke-width="1.4" />
<line x1="752.20" y1="554.77" x2="759.40" y2="554.77" stroke="#281c10" stroke-width="1.4" />
<line x1="752.20" y1="523.86" x2="759.40" y2="523.86" stroke="#281c10" stroke-width="1.4" />
<line x1="752.20" y1="492.95" x2="759.40" y2="492.95" stroke="#281c10" stroke-width="1.4" />
<line x1="752.20" y1="462.04" x2="759.40" y2="462.04" stroke="#281c10" stroke-width="1.4" />
<line x1="752.20" y1="431.13" x2="759.40" y2="431.13" stroke="#281c10" stroke-width="1.4" />
<line x1="752.20" y1="400.22" x2="759.40" y2="400.22" stroke="#281c10" stroke-width="1.4" />
<line x1="775.40" y1="647.50" x2="775.40" y2="653.10" stroke="#281c10" stroke-width="1.4" />
<line x1="827.60" y1="647.50" x2="827.60" y2="653.10" stroke="#281c10" stroke-width="1.4" />
<line x1="873.10" y1="647.50" x2="873.10" y2="653.10" stroke="#281c10" stroke-width="1.4" />
<line x1="918.75" y1="647.50" x2="918.75" y2="653.10" stroke="#281c10" stroke-width="1.4" />
<line x1="966.10" y1="647.50" x2="966.10" y2="653.10" stroke="#281c10" stroke-width="1.4" />
<line x1="1011.00" y1="647.50" x2="1011.00" y2="653.10" stroke="#281c10" stroke-width="1.4" />
<line x1="1056.50" y1="647.50" x2="1056.50" y2="653.10" stroke="#281c10" stroke-width="1.4" />
<line x1="1101.80" y1="647.50" x2="1101.80" y2="653.10" stroke="#281c10" stroke-width="1.4" />
<line x1="1160.20" y1="647.50" x2="1160.20" y2="653.10" stroke="#281c10" stroke-width="1.4" />
<circle cx="766.80" cy="647.50" r="2.9" fill="#a7b6e6" stroke="#2c2520" stroke-width="0.8"/>
<circle cx="768.41" cy="647.50" r="2.9" fill="#a7b6e6" stroke="#2c2520" stroke-width="0.8"/>
<circle cx="770.02" cy="647.50" r="2.9" fill="#a7b6e6" stroke="#2c2520" stroke-width="0.8"/>
<circle cx="771.63" cy="647.50" r="2.9" fill="#a7b6e6" stroke="#2c2520" stroke-width="0.8"/>
<circle cx="773.24" cy="647.50" r="2.9" fill="#a7b6e6" stroke="#2c2520" stroke-width="0.8"/>
<circle cx="774.85" cy="647.50" r="2.9" fill="#a7b6e6" stroke="#2c2520" stroke-width="0.8"/>
<circle cx="776.46" cy="647.50" r="2.9" fill="#a7b6e6" stroke="#2c2520" stroke-width="0.8"/>
<circle cx="778.07" cy="647.50" r="2.9" fill="#a7b6e6" stroke="#2c2520" stroke-width="0.8"/>
<circle cx="779.68" cy="647.50" r="2.9" fill="#a7b6e6" stroke="#2c2520" stroke-width="0.8"/>
<circle cx="781.29" cy="647.50" r="2.9" fill="#a7b6e6" stroke="#2c2520" stroke-width="0.8"/>
<circle cx="782.91" cy="647.50" r="2.9" fill="#a7b6e6" stroke="#2c2520" stroke-width="0.8"/>
<circle cx="784.52" cy="647.50" r="2.9" fill="#a7b6e6" stroke="#2c2520" stroke-width="0.8"/>
<circle cx="786.13" cy="647.50" r="2.9" fill="#a7b6e6" stroke="#2c2520" stroke-width="0.8"/>
<circle cx="787.74" cy="647.50" r="2.9" fill="#a7b6e6" stroke="#2c2520" stroke-width="0.8"/>
<circle cx="789.35" cy="647.50" r="2.9" fill="#a7b6e6" stroke="#2c2520" stroke-width="0.8"/>
<circle cx="790.96" cy="647.50" r="2.9" fill="#a7b6e6" stroke="#2c2520" stroke-width="0.8"/>
<circle cx="792.57" cy="647.50" r="2.9" fill="#a7b6e6" stroke="#2c2520" stroke-width="0.8"/>
<circle cx="794.18" cy="647.50" r="2.9" fill="#a7b6e6" stroke="#2c2520" stroke-width="0.8"/>
<circle cx="795.79" cy="647.50" r="2.9" fill="#a7b6e6" stroke="#2c2520" stroke-width="0.8"/>
<circle cx="797.40" cy="647.50" r="2.9" fill="#a7b6e6" stroke="#2c2520" stroke-width="0.8"/>
<circle cx="766.70" cy="647.50" r="2.9" fill="#a7b6e6" stroke="#2c2520" stroke-width="0.8"/>
<circle cx="771.50" cy="647.50" r="2.9" fill="#a7b6e6" stroke="#2c2520" stroke-width="0.8"/>
<circle cx="777.90" cy="647.50" r="2.9" fill="#a7b6e6" stroke="#2c2520" stroke-width="0.8"/>
<circle cx="787.70" cy="647.50" r="2.9" fill="#a7b6e6" stroke="#2c2520" stroke-width="0.8"/>
<circle cx="794.40" cy="647.50" r="2.9" fill="#a7b6e6" stroke="#2c2520" stroke-width="0.8"/>
<circle cx="950.50" cy="647.50" r="2.9" fill="#a7b6e6" stroke="#2c2520" stroke-width="0.8"/>
<circle cx="952.11" cy="647.50" r="2.9" fill="#a7b6e6" stroke="#2c2520" stroke-width="0.8"/>
<circle cx="953.72" cy="647.50" r="2.9" fill="#a7b6e6" stroke="#2c2520" stroke-width="0.8"/>
<circle cx="955.33" cy="647.50" r="2.9" fill="#a7b6e6" stroke="#2c2520" stroke-width="0.8"/>
<circle cx="956.94" cy="647.50" r="2.9" fill="#a7b6e6" stroke="#2c2520" stroke-width="0.8"/>
<circle cx="958.55" cy="647.50" r="2.9" fill="#a7b6e6" stroke="#2c2520" stroke-width="0.8"/>
<circle cx="960.16" cy="647.50" r="2.9" fill="#a7b6e6" stroke="#2c2520" stroke-width="0.8"/>
<circle cx="961.77" cy="647.50" r="2.9" fill="#a7b6e6" stroke="#2c2520" stroke-width="0.8"/>
<circle cx="963.38" cy="647.50" r="2.9" fill="#a7b6e6" stroke="#2c2520" stroke-width="0.8"/>
<circle cx="964.99" cy="647.50" r="2.9" fill="#a7b6e6" stroke="#2c2520" stroke-width="0.8"/>
<circle cx="966.61" cy="647.50" r="2.9" fill="#a7b6e6" stroke="#2c2520" stroke-width="0.8"/>
<circle cx="968.22" cy="647.50" r="2.9" fill="#a7b6e6" stroke="#2c2520" stroke-width="0.8"/>
<circle cx="969.83" cy="647.50" r="2.9" fill="#a7b6e6" stroke="#2c2520" stroke-width="0.8"/>
<circle cx="971.44" cy="647.50" r="2.9" fill="#a7b6e6" stroke="#2c2520" stroke-width="0.8"/>
<circle cx="973.05" cy="647.50" r="2.9" fill="#a7b6e6" stroke="#2c2520" stroke-width="0.8"/>
<circle cx="974.66" cy="647.50" r="2.9" fill="#a7b6e6" stroke="#2c2520" stroke-width="0.8"/>
<circle cx="976.27" cy="647.50" r="2.9" fill="#a7b6e6" stroke="#2c2520" stroke-width="0.8"/>
<circle cx="977.88" cy="647.50" r="2.9" fill="#a7b6e6" stroke="#2c2520" stroke-width="0.8"/>
<circle cx="979.49" cy="647.50" r="2.9" fill="#a7b6e6" stroke="#2c2520" stroke-width="0.8"/>
<circle cx="981.10" cy="647.50" r="2.9" fill="#a7b6e6" stroke="#2c2520" stroke-width="0.8"/>
<circle cx="950.40" cy="647.50" r="2.9" fill="#a7b6e6" stroke="#2c2520" stroke-width="0.8"/>
<circle cx="955.20" cy="647.50" r="2.9" fill="#a7b6e6" stroke="#2c2520" stroke-width="0.8"/>
<circle cx="961.60" cy="647.50" r="2.9" fill="#a7b6e6" stroke="#2c2520" stroke-width="0.8"/>
<circle cx="971.40" cy="647.50" r="2.9" fill="#a7b6e6" stroke="#2c2520" stroke-width="0.8"/>
<circle cx="978.10" cy="647.50" r="2.9" fill="#a7b6e6" stroke="#2c2520" stroke-width="0.8"/>
<circle cx="996.00" cy="647.50" r="2.9" fill="#a7b6e6" stroke="#2c2520" stroke-width="0.8"/>
<circle cx="998.16" cy="647.50" r="2.9" fill="#a7b6e6" stroke="#2c2520" stroke-width="0.8"/>
<circle cx="1000.33" cy="647.50" r="2.9" fill="#a7b6e6" stroke="#2c2520" stroke-width="0.8"/>
<circle cx="1002.49" cy="647.50" r="2.9" fill="#a7b6e6" stroke="#2c2520" stroke-width="0.8"/>
<circle cx="1004.66" cy="647.50" r="2.9" fill="#a7b6e6" stroke="#2c2520" stroke-width="0.8"/>
<circle cx="1006.82" cy="647.50" r="2.9" fill="#a7b6e6" stroke="#2c2520" stroke-width="0.8"/>
<circle cx="1008.99" cy="647.50" r="2.9" fill="#a7b6e6" stroke="#2c2520" stroke-width="0.8"/>
<circle cx="1011.15" cy="647.50" r="2.9" fill="#a7b6e6" stroke="#2c2520" stroke-width="0.8"/>
<circle cx="1013.31" cy="647.50" r="2.9" fill="#a7b6e6" stroke="#2c2520" stroke-width="0.8"/>
<circle cx="1015.48" cy="647.50" r="2.9" fill="#a7b6e6" stroke="#2c2520" stroke-width="0.8"/>
<circle cx="1017.64" cy="647.50" r="2.9" fill="#a7b6e6" stroke="#2c2520" stroke-width="0.8"/>
<circle cx="1019.81" cy="647.50" r="2.9" fill="#a7b6e6" stroke="#2c2520" stroke-width="0.8"/>
<circle cx="1021.97" cy="647.50" r="2.9" fill="#a7b6e6" stroke="#2c2520" stroke-width="0.8"/>
<circle cx="1024.14" cy="647.50" r="2.9" fill="#a7b6e6" stroke="#2c2520" stroke-width="0.8"/>
<circle cx="1026.30" cy="647.50" r="2.9" fill="#a7b6e6" stroke="#2c2520" stroke-width="0.8"/>
<circle cx="997.70" cy="647.50" r="2.9" fill="#a7b6e6" stroke="#2c2520" stroke-width="0.8"/>
<circle cx="1002.10" cy="647.50" r="2.9" fill="#a7b6e6" stroke="#2c2520" stroke-width="0.8"/>
<circle cx="1006.70" cy="647.50" r="2.9" fill="#a7b6e6" stroke="#2c2520" stroke-width="0.8"/>
<circle cx="1013.30" cy="647.50" r="2.9" fill="#a7b6e6" stroke="#2c2520" stroke-width="0.8"/>
<circle cx="1017.90" cy="647.50" r="2.9" fill="#a7b6e6" stroke="#2c2520" stroke-width="0.8"/>
<circle cx="1022.50" cy="647.50" r="2.9" fill="#a7b6e6" stroke="#2c2520" stroke-width="0.8"/>
<circle cx="827.60" cy="493.55" r="2.9" fill="#a7b6e6" stroke="#2c2520" stroke-width="0.8"/>
<circle cx="819.73" cy="524.46" r="2.9" fill="#a7b6e6" stroke="#2c2520" stroke-width="0.8"/>
<circle cx="824.98" cy="524.46" r="2.9" fill="#a7b6e6" stroke="#2c2520" stroke-width="0.8"/>
<circle cx="830.23" cy="524.46" r="2.9" fill="#a7b6e6" stroke="#2c2520" stroke-width="0.8"/>
<circle cx="835.48" cy="524.46" r="2.9" fill="#a7b6e6" stroke="#2c2520" stroke-width="0.8"/>
<circle cx="824.95" cy="555.37" r="2.9" fill="#a7b6e6" stroke="#2c2520" stroke-width="0.8"/>
<circle cx="830.25" cy="555.37" r="2.9" fill="#a7b6e6" stroke="#2c2520" stroke-width="0.8"/>
<circle cx="814.48" cy="586.28" r="2.9" fill="#a7b6e6" stroke="#2c2520" stroke-width="0.8"/>
<circle cx="819.73" cy="586.28" r="2.9" fill="#a7b6e6" stroke="#2c2520" stroke-width="0.8"/>
<circle cx="824.98" cy="586.28" r="2.9" fill="#a7b6e6" stroke="#2c2520" stroke-width="0.8"/>
<circle cx="830.23" cy="586.28" r="2.9" fill="#a7b6e6" stroke="#2c2520" stroke-width="0.8"/>
<circle cx="835.48" cy="586.28" r="2.9" fill="#a7b6e6" stroke="#2c2520" stroke-width="0.8"/>
<circle cx="840.73" cy="586.28" r="2.9" fill="#a7b6e6" stroke="#2c2520" stroke-width="0.8"/>
<circle cx="811.70" cy="647.60" r="2.9" fill="#a7b6e6" stroke="#2c2520" stroke-width="0.8"/>
<circle cx="817.00" cy="647.60" r="2.9" fill="#a7b6e6" stroke="#2c2520" stroke-width="0.8"/>
<circle cx="822.30" cy="647.60" r="2.9" fill="#a7b6e6" stroke="#2c2520" stroke-width="0.8"/>
<circle cx="827.60" cy="647.60" r="2.9" fill="#a7b6e6" stroke="#2c2520" stroke-width="0.8"/>
<circle cx="832.90" cy="647.60" r="2.9" fill="#a7b6e6" stroke="#2c2520" stroke-width="0.8"/>
<circle cx="838.20" cy="647.60" r="2.9" fill="#a7b6e6" stroke="#2c2520" stroke-width="0.8"/>
<circle cx="843.50" cy="647.60" r="2.9" fill="#a7b6e6" stroke="#2c2520" stroke-width="0.8"/>
<circle cx="873.10" cy="462.64" r="2.9" fill="#a7b6e6" stroke="#2c2520" stroke-width="0.8"/>
<circle cx="860.70" cy="493.55" r="2.9" fill="#a7b6e6" stroke="#2c2520" stroke-width="0.8"/>
<circle cx="866.90" cy="493.55" r="2.9" fill="#a7b6e6" stroke="#2c2520" stroke-width="0.8"/>
<circle cx="873.10" cy="493.55" r="2.9" fill="#a7b6e6" stroke="#2c2520" stroke-width="0.8"/>
<circle cx="879.30" cy="493.55" r="2.9" fill="#a7b6e6" stroke="#2c2520" stroke-width="0.8"/>
<circle cx="885.50" cy="493.55" r="2.9" fill="#a7b6e6" stroke="#2c2520" stroke-width="0.8"/>
<circle cx="857.60" cy="524.46" r="2.9" fill="#a7b6e6" stroke="#2c2520" stroke-width="0.8"/>
<circle cx="863.80" cy="524.46" r="2.9" fill="#a7b6e6" stroke="#2c2520" stroke-width="0.8"/>
<circle cx="870.00" cy="524.46" r="2.9" fill="#a7b6e6" stroke="#2c2520" stroke-width="0.8"/>
<circle cx="876.20" cy="524.46" r="2.9" fill="#a7b6e6" stroke="#2c2520" stroke-width="0.8"/>
<circle cx="882.40" cy="524.46" r="2.9" fill="#a7b6e6" stroke="#2c2520" stroke-width="0.8"/>
<circle cx="888.60" cy="524.46" r="2.9" fill="#a7b6e6" stroke="#2c2520" stroke-width="0.8"/>
<circle cx="860.70" cy="555.37" r="2.9" fill="#a7b6e6" stroke="#2c2520" stroke-width="0.8"/>
<circle cx="866.90" cy="555.37" r="2.9" fill="#a7b6e6" stroke="#2c2520" stroke-width="0.8"/>
<circle cx="873.10" cy="555.37" r="2.9" fill="#a7b6e6" stroke="#2c2520" stroke-width="0.8"/>
<circle cx="879.30" cy="555.37" r="2.9" fill="#a7b6e6" stroke="#2c2520" stroke-width="0.8"/>
<circle cx="885.50" cy="555.37" r="2.9" fill="#a7b6e6" stroke="#2c2520" stroke-width="0.8"/>
<circle cx="870.00" cy="586.28" r="2.9" fill="#a7b6e6" stroke="#2c2520" stroke-width="0.8"/>
<circle cx="876.20" cy="586.28" r="2.9" fill="#a7b6e6" stroke="#2c2520" stroke-width="0.8"/>
<circle cx="873.10" cy="647.60" r="2.9" fill="#a7b6e6" stroke="#2c2520" stroke-width="0.8"/>
<circle cx="907.58" cy="431.73" r="2.9" fill="#a7b6e6" stroke="#2c2520" stroke-width="0.8"/>
<circle cx="915.03" cy="431.73" r="2.9" fill="#a7b6e6" stroke="#2c2520" stroke-width="0.8"/>
<circle cx="922.48" cy="431.73" r="2.9" fill="#a7b6e6" stroke="#2c2520" stroke-width="0.8"/>
<circle cx="929.93" cy="431.73" r="2.9" fill="#a7b6e6" stroke="#2c2520" stroke-width="0.8"/>
<circle cx="903.75" cy="462.64" r="2.9" fill="#a7b6e6" stroke="#2c2520" stroke-width="0.8"/>
<circle cx="911.25" cy="462.64" r="2.9" fill="#a7b6e6" stroke="#2c2520" stroke-width="0.8"/>
<circle cx="918.75" cy="462.64" r="2.9" fill="#a7b6e6" stroke="#2c2520" stroke-width="0.8"/>
<circle cx="926.25" cy="462.64" r="2.9" fill="#a7b6e6" stroke="#2c2520" stroke-width="0.8"/>
<circle cx="933.75" cy="462.64" r="2.9" fill="#a7b6e6" stroke="#2c2520" stroke-width="0.8"/>
<circle cx="903.75" cy="493.55" r="2.9" fill="#a7b6e6" stroke="#2c2520" stroke-width="0.8"/>
<circle cx="911.25" cy="493.55" r="2.9" fill="#a7b6e6" stroke="#2c2520" stroke-width="0.8"/>
<circle cx="918.75" cy="493.55" r="2.9" fill="#a7b6e6" stroke="#2c2520" stroke-width="0.8"/>
<circle cx="926.25" cy="493.55" r="2.9" fill="#a7b6e6" stroke="#2c2520" stroke-width="0.8"/>
<circle cx="933.75" cy="493.55" r="2.9" fill="#a7b6e6" stroke="#2c2520" stroke-width="0.8"/>
<circle cx="903.75" cy="524.46" r="2.9" fill="#a7b6e6" stroke="#2c2520" stroke-width="0.8"/>
<circle cx="911.25" cy="524.46" r="2.9" fill="#a7b6e6" stroke="#2c2520" stroke-width="0.8"/>
<circle cx="918.75" cy="524.46" r="2.9" fill="#a7b6e6" stroke="#2c2520" stroke-width="0.8"/>
<circle cx="926.25" cy="524.46" r="2.9" fill="#a7b6e6" stroke="#2c2520" stroke-width="0.8"/>
<circle cx="933.75" cy="524.46" r="2.9" fill="#a7b6e6" stroke="#2c2520" stroke-width="0.8"/>
<circle cx="918.75" cy="555.37" r="2.9" fill="#a7b6e6" stroke="#2c2520" stroke-width="0.8"/>
<circle cx="1008.50" cy="555.37" r="2.9" fill="#a7b6e6" stroke="#2c2520" stroke-width="0.8"/>
<circle cx="1011.00" cy="555.37" r="2.9" fill="#a7b6e6" stroke="#2c2520" stroke-width="0.8"/>
<circle cx="1013.50" cy="555.37" r="2.9" fill="#a7b6e6" stroke="#2c2520" stroke-width="0.8"/>
<circle cx="1010.10" cy="586.28" r="2.9" fill="#a7b6e6" stroke="#2c2520" stroke-width="0.8"/>
<circle cx="1011.90" cy="586.28" r="2.9" fill="#a7b6e6" stroke="#2c2520" stroke-width="0.8"/>
<circle cx="1053.90" cy="462.64" r="2.9" fill="#a7b6e6" stroke="#2c2520" stroke-width="0.8"/>
<circle cx="1059.10" cy="462.64" r="2.9" fill="#a7b6e6" stroke="#2c2520" stroke-width="0.8"/>
<circle cx="1043.60" cy="493.55" r="2.9" fill="#a7b6e6" stroke="#2c2520" stroke-width="0.8"/>
<circle cx="1048.76" cy="493.55" r="2.9" fill="#a7b6e6" stroke="#2c2520" stroke-width="0.8"/>
<circle cx="1053.92" cy="493.55" r="2.9" fill="#a7b6e6" stroke="#2c2520" stroke-width="0.8"/>
<circle cx="1059.08" cy="493.55" r="2.9" fill="#a7b6e6" stroke="#2c2520" stroke-width="0.8"/>
<circle cx="1064.24" cy="493.55" r="2.9" fill="#a7b6e6" stroke="#2c2520" stroke-width="0.8"/>
<circle cx="1069.40" cy="493.55" r="2.9" fill="#a7b6e6" stroke="#2c2520" stroke-width="0.8"/>
<circle cx="1041.02" cy="524.46" r="2.9" fill="#a7b6e6" stroke="#2c2520" stroke-width="0.8"/>
<circle cx="1046.18" cy="524.46" r="2.9" fill="#a7b6e6" stroke="#2c2520" stroke-width="0.8"/>
<circle cx="1051.34" cy="524.46" r="2.9" fill="#a7b6e6" stroke="#2c2520" stroke-width="0.8"/>
<circle cx="1056.50" cy="524.46" r="2.9" fill="#a7b6e6" stroke="#2c2520" stroke-width="0.8"/>
<circle cx="1061.66" cy="524.46" r="2.9" fill="#a7b6e6" stroke="#2c2520" stroke-width="0.8"/>
<circle cx="1066.82" cy="524.46" r="2.9" fill="#a7b6e6" stroke="#2c2520" stroke-width="0.8"/>
<circle cx="1071.98" cy="524.46" r="2.9" fill="#a7b6e6" stroke="#2c2520" stroke-width="0.8"/>
<circle cx="1048.76" cy="555.37" r="2.9" fill="#a7b6e6" stroke="#2c2520" stroke-width="0.8"/>
<circle cx="1053.92" cy="555.37" r="2.9" fill="#a7b6e6" stroke="#2c2520" stroke-width="0.8"/>
<circle cx="1059.08" cy="555.37" r="2.9" fill="#a7b6e6" stroke="#2c2520" stroke-width="0.8"/>
<circle cx="1064.24" cy="555.37" r="2.9" fill="#a7b6e6" stroke="#2c2520" stroke-width="0.8"/>
<circle cx="1056.50" cy="647.60" r="2.9" fill="#a7b6e6" stroke="#2c2520" stroke-width="0.8"/>
<circle cx="1100.35" cy="431.73" r="2.9" fill="#a7b6e6" stroke="#2c2520" stroke-width="0.8"/>
<circle cx="1103.25" cy="431.73" r="2.9" fill="#a7b6e6" stroke="#2c2520" stroke-width="0.8"/>
<circle cx="1095.06" cy="462.64" r="2.9" fill="#a7b6e6" stroke="#2c2520" stroke-width="0.8"/>
<circle cx="1098.43" cy="462.64" r="2.9" fill="#a7b6e6" stroke="#2c2520" stroke-width="0.8"/>
<circle cx="1101.80" cy="462.64" r="2.9" fill="#a7b6e6" stroke="#2c2520" stroke-width="0.8"/>
<circle cx="1105.17" cy="462.64" r="2.9" fill="#a7b6e6" stroke="#2c2520" stroke-width="0.8"/>
<circle cx="1108.54" cy="462.64" r="2.9" fill="#a7b6e6" stroke="#2c2520" stroke-width="0.8"/>
<circle cx="1086.54" cy="493.55" r="2.9" fill="#a7b6e6" stroke="#2c2520" stroke-width="0.8"/>
<circle cx="1089.93" cy="493.55" r="2.9" fill="#a7b6e6" stroke="#2c2520" stroke-width="0.8"/>
<circle cx="1093.32" cy="493.55" r="2.9" fill="#a7b6e6" stroke="#2c2520" stroke-width="0.8"/>
<circle cx="1096.71" cy="493.55" r="2.9" fill="#a7b6e6" stroke="#2c2520" stroke-width="0.8"/>
<circle cx="1100.10" cy="493.55" r="2.9" fill="#a7b6e6" stroke="#2c2520" stroke-width="0.8"/>
<circle cx="1103.49" cy="493.55" r="2.9" fill="#a7b6e6" stroke="#2c2520" stroke-width="0.8"/>
<circle cx="1106.88" cy="493.55" r="2.9" fill="#a7b6e6" stroke="#2c2520" stroke-width="0.8"/>
<circle cx="1110.27" cy="493.55" r="2.9" fill="#a7b6e6" stroke="#2c2520" stroke-width="0.8"/>
<circle cx="1113.66" cy="493.55" r="2.9" fill="#a7b6e6" stroke="#2c2520" stroke-width="0.8"/>
<circle cx="1117.05" cy="493.55" r="2.9" fill="#a7b6e6" stroke="#2c2520" stroke-width="0.8"/>
<circle cx="1100.15" cy="524.46" r="2.9" fill="#a7b6e6" stroke="#2c2520" stroke-width="0.8"/>
<circle cx="1103.45" cy="524.46" r="2.9" fill="#a7b6e6" stroke="#2c2520" stroke-width="0.8"/>
<circle cx="1101.80" cy="586.28" r="2.9" fill="#a7b6e6" stroke="#2c2520" stroke-width="0.8"/>
<circle cx="1157.15" cy="400.82" r="2.9" fill="#f7b79d" stroke="#2b1408" stroke-width="1.05"/>
<circle cx="1159.80" cy="400.82" r="2.9" fill="#f7b79d" stroke="#2b1408" stroke-width="1.05"/>
<circle cx="1162.45" cy="400.82" r="2.9" fill="#f7b79d" stroke="#2b1408" stroke-width="1.05"/>
<circle cx="1153.20" cy="431.73" r="2.9" fill="#f7b79d" stroke="#2b1408" stroke-width="1.05"/>
<circle cx="1156.50" cy="431.73" r="2.9" fill="#f7b79d" stroke="#2b1408" stroke-width="1.05"/>
<circle cx="1159.80" cy="431.73" r="2.9" fill="#f7b79d" stroke="#2b1408" stroke-width="1.05"/>
<circle cx="1163.10" cy="431.73" r="2.9" fill="#f7b79d" stroke="#2b1408" stroke-width="1.05"/>
<circle cx="1166.40" cy="431.73" r="2.9" fill="#f7b79d" stroke="#2b1408" stroke-width="1.05"/>
<circle cx="1147.20" cy="462.64" r="2.9" fill="#f7b79d" stroke="#2b1408" stroke-width="1.05"/>
<circle cx="1150.00" cy="462.64" r="2.9" fill="#f7b79d" stroke="#2b1408" stroke-width="1.05"/>
<circle cx="1152.80" cy="462.64" r="2.9" fill="#f7b79d" stroke="#2b1408" stroke-width="1.05"/>
<circle cx="1155.60" cy="462.64" r="2.9" fill="#f7b79d" stroke="#2b1408" stroke-width="1.05"/>
<circle cx="1158.40" cy="462.64" r="2.9" fill="#f7b79d" stroke="#2b1408" stroke-width="1.05"/>
<circle cx="1161.20" cy="462.64" r="2.9" fill="#f7b79d" stroke="#2b1408" stroke-width="1.05"/>
<circle cx="1164.00" cy="462.64" r="2.9" fill="#f7b79d" stroke="#2b1408" stroke-width="1.05"/>
<circle cx="1166.80" cy="462.64" r="2.9" fill="#f7b79d" stroke="#2b1408" stroke-width="1.05"/>
<circle cx="1169.60" cy="462.64" r="2.9" fill="#f7b79d" stroke="#2b1408" stroke-width="1.05"/>
<circle cx="1172.40" cy="462.64" r="2.9" fill="#f7b79d" stroke="#2b1408" stroke-width="1.05"/>
<circle cx="1145.17" cy="493.55" r="2.9" fill="#f7b79d" stroke="#2b1408" stroke-width="1.05"/>
<circle cx="1147.42" cy="493.55" r="2.9" fill="#f7b79d" stroke="#2b1408" stroke-width="1.05"/>
<circle cx="1149.67" cy="493.55" r="2.9" fill="#f7b79d" stroke="#2b1408" stroke-width="1.05"/>
<circle cx="1151.92" cy="493.55" r="2.9" fill="#f7b79d" stroke="#2b1408" stroke-width="1.05"/>
<circle cx="1154.17" cy="493.55" r="2.9" fill="#f7b79d" stroke="#2b1408" stroke-width="1.05"/>
<circle cx="1156.42" cy="493.55" r="2.9" fill="#f7b79d" stroke="#2b1408" stroke-width="1.05"/>
<circle cx="1158.67" cy="493.55" r="2.9" fill="#f7b79d" stroke="#2b1408" stroke-width="1.05"/>
<circle cx="1160.92" cy="493.55" r="2.9" fill="#f7b79d" stroke="#2b1408" stroke-width="1.05"/>
<circle cx="1163.17" cy="493.55" r="2.9" fill="#f7b79d" stroke="#2b1408" stroke-width="1.05"/>
<circle cx="1165.42" cy="493.55" r="2.9" fill="#f7b79d" stroke="#2b1408" stroke-width="1.05"/>
<circle cx="1167.67" cy="493.55" r="2.9" fill="#f7b79d" stroke="#2b1408" stroke-width="1.05"/>
<circle cx="1169.92" cy="493.55" r="2.9" fill="#f7b79d" stroke="#2b1408" stroke-width="1.05"/>
<circle cx="1172.17" cy="493.55" r="2.9" fill="#f7b79d" stroke="#2b1408" stroke-width="1.05"/>
<circle cx="1174.42" cy="493.55" r="2.9" fill="#f7b79d" stroke="#2b1408" stroke-width="1.05"/>
<circle cx="1147.65" cy="524.46" r="2.9" fill="#f7b79d" stroke="#2b1408" stroke-width="1.05"/>
<circle cx="1150.35" cy="524.46" r="2.9" fill="#f7b79d" stroke="#2b1408" stroke-width="1.05"/>
<circle cx="1153.05" cy="524.46" r="2.9" fill="#f7b79d" stroke="#2b1408" stroke-width="1.05"/>
<circle cx="1155.75" cy="524.46" r="2.9" fill="#f7b79d" stroke="#2b1408" stroke-width="1.05"/>
<circle cx="1158.45" cy="524.46" r="2.9" fill="#f7b79d" stroke="#2b1408" stroke-width="1.05"/>
<circle cx="1161.15" cy="524.46" r="2.9" fill="#f7b79d" stroke="#2b1408" stroke-width="1.05"/>
<circle cx="1163.85" cy="524.46" r="2.9" fill="#f7b79d" stroke="#2b1408" stroke-width="1.05"/>
<circle cx="1166.55" cy="524.46" r="2.9" fill="#f7b79d" stroke="#2b1408" stroke-width="1.05"/>
<circle cx="1169.25" cy="524.46" r="2.9" fill="#f7b79d" stroke="#2b1408" stroke-width="1.05"/>
<circle cx="1171.95" cy="524.46" r="2.9" fill="#f7b79d" stroke="#2b1408" stroke-width="1.05"/>
<circle cx="1150.65" cy="647.60" r="2.9" fill="#f7b79d" stroke="#2b1408" stroke-width="1.05"/>
<circle cx="1153.70" cy="647.60" r="2.9" fill="#f7b79d" stroke="#2b1408" stroke-width="1.05"/>
<circle cx="1156.75" cy="647.60" r="2.9" fill="#f7b79d" stroke="#2b1408" stroke-width="1.05"/>
<circle cx="1159.80" cy="647.60" r="2.9" fill="#f7b79d" stroke="#2b1408" stroke-width="1.05"/>
<circle cx="1162.85" cy="647.60" r="2.9" fill="#f7b79d" stroke="#2b1408" stroke-width="1.05"/>
<circle cx="1165.90" cy="647.60" r="2.9" fill="#f7b79d" stroke="#2b1408" stroke-width="1.05"/>
<circle cx="1168.95" cy="647.60" r="2.9" fill="#f7b79d" stroke="#2b1408" stroke-width="1.05"/>
<circle cx="1159.80" cy="410.60" r="2.9" fill="#f7b79d" stroke="#2b1408" stroke-width="1.05"/>
<circle cx="1159.80" cy="441.70" r="2.9" fill="#f7b79d" stroke="#2b1408" stroke-width="1.05"/>
<circle cx="1159.80" cy="472.30" r="2.9" fill="#f7b79d" stroke="#2b1408" stroke-width="1.05"/>
<circle cx="1159.80" cy="503.20" r="2.9" fill="#f7b79d" stroke="#2b1408" stroke-width="1.05"/>
<circle cx="1159.80" cy="533.80" r="2.9" fill="#f7b79d" stroke="#2b1408" stroke-width="1.05"/>
<line x1="827.60" y1="562.90" x2="827.60" y2="611.80" stroke="#281c10" stroke-width="1.45" />
<line x1="809.25" y1="587.20" x2="845.95" y2="587.20" stroke="#281c10" stroke-width="1.5" />
<line x1="818.50" y1="562.90" x2="836.70" y2="562.90" stroke="#281c10" stroke-width="1.5" />
<line x1="818.50" y1="611.80" x2="836.70" y2="611.80" stroke="#281c10" stroke-width="1.5" />
<line x1="873.10" y1="513.50" x2="873.10" y2="553.30" stroke="#281c10" stroke-width="1.45" />
<line x1="854.75" y1="533.40" x2="891.45" y2="533.40" stroke="#281c10" stroke-width="1.5" />
<line x1="864.00" y1="513.50" x2="882.20" y2="513.50" stroke="#281c10" stroke-width="1.5" />
<line x1="864.00" y1="553.30" x2="882.20" y2="553.30" stroke="#281c10" stroke-width="1.5" />
<line x1="918.75" y1="466.20" x2="918.75" y2="501.50" stroke="#281c10" stroke-width="1.45" />
<line x1="900.40" y1="484.10" x2="937.10" y2="484.10" stroke="#281c10" stroke-width="1.5" />
<line x1="909.65" y1="466.20" x2="927.85" y2="466.20" stroke="#281c10" stroke-width="1.5" />
<line x1="909.65" y1="501.50" x2="927.85" y2="501.50" stroke="#281c10" stroke-width="1.5" />
<line x1="1011.00" y1="610.00" x2="1011.00" y2="647.50" stroke="#281c10" stroke-width="1.45" />
<line x1="992.65" y1="627.20" x2="1029.35" y2="627.20" stroke="#281c10" stroke-width="1.5" />
<line x1="1001.90" y1="610.00" x2="1020.10" y2="610.00" stroke="#281c10" stroke-width="1.5" />
<line x1="1001.90" y1="647.50" x2="1020.10" y2="647.50" stroke="#281c10" stroke-width="1.5" />
<line x1="1056.50" y1="502.00" x2="1056.50" y2="540.10" stroke="#281c10" stroke-width="1.45" />
<line x1="1038.15" y1="520.70" x2="1074.85" y2="520.70" stroke="#281c10" stroke-width="1.5" />
<line x1="1047.40" y1="502.00" x2="1065.60" y2="502.00" stroke="#281c10" stroke-width="1.5" />
<line x1="1047.40" y1="540.10" x2="1065.60" y2="540.10" stroke="#281c10" stroke-width="1.5" />
<line x1="1101.80" y1="471.10" x2="1101.80" y2="503.20" stroke="#281c10" stroke-width="1.45" />
<line x1="1083.45" y1="487.00" x2="1120.15" y2="487.00" stroke="#281c10" stroke-width="1.5" />
<line x1="1092.70" y1="471.10" x2="1110.90" y2="471.10" stroke="#281c10" stroke-width="1.5" />
<line x1="1092.70" y1="503.20" x2="1110.90" y2="503.20" stroke="#281c10" stroke-width="1.5" />
<line x1="1141.40" y1="501.50" x2="1178.20" y2="501.50" stroke="#281c10" stroke-width="1.2" />
<line x1="1150.80" y1="499.50" x2="1168.80" y2="499.50" stroke="#7a7268" stroke-width="1.4" />
<line x1="1150.80" y1="503.80" x2="1168.80" y2="503.80" stroke="#7a7268" stroke-width="1.4" />
<g opacity="0.999">
<text x="78.90" y="294.95" font-size="13" text-anchor="end" letter-spacing="0.3">25</text>
<text x="78.90" y="276.00" font-size="13" text-anchor="end" letter-spacing="0.3">50</text>
<text x="78.90" y="257.05" font-size="13" text-anchor="end" letter-spacing="0.3">100</text>
<text x="78.90" y="238.10" font-size="13" text-anchor="end" letter-spacing="0.3">200</text>
<text x="78.90" y="219.15" font-size="13" text-anchor="end" letter-spacing="0.3">400</text>
<text x="78.90" y="200.20" font-size="13" text-anchor="end" letter-spacing="0.3">800</text>
<text x="78.90" y="181.25" font-size="13" text-anchor="end" letter-spacing="0.3">1600</text>
<text x="78.90" y="162.30" font-size="13" text-anchor="end" letter-spacing="0.3">3200</text>
<text x="78.90" y="143.35" font-size="13" text-anchor="end" letter-spacing="0.3">6400</text>
<text x="78.90" y="124.40" font-size="13" text-anchor="end" letter-spacing="0.3">12<tspan dx="1.0">800</tspan></text>
<text x="78.90" y="105.45" font-size="13" text-anchor="end" letter-spacing="0.3">25<tspan dx="1.0">600</tspan></text>
<text x="78.90" y="86.50" font-size="13" text-anchor="end" letter-spacing="0.3">51<tspan dx="1.0">200</tspan></text>
<text x="78.90" y="67.55" font-size="13" text-anchor="end" letter-spacing="0.3">102<tspan dx="1.0">400</tspan></text>
<text x="109.40" y="328.20" font-size="13" text-anchor="middle" >0</text>
<text x="146.20" y="328.20" font-size="13" text-anchor="middle" >14</text>
<text x="183.00" y="328.20" font-size="13" text-anchor="middle" >21</text>
<text x="219.80" y="328.20" font-size="13" text-anchor="middle" >28</text>
<text x="256.60" y="328.20" font-size="13" text-anchor="middle" >0</text>
<text x="293.40" y="328.20" font-size="13" text-anchor="middle" >14</text>
<text x="330.20" y="328.20" font-size="13" text-anchor="middle" >21</text>
<text x="367.00" y="328.20" font-size="13" text-anchor="middle" >28</text>
<text x="403.80" y="328.20" font-size="13" text-anchor="middle" >0</text>
<text x="440.60" y="328.20" font-size="13" text-anchor="middle" >14</text>
<text x="477.40" y="328.20" font-size="13" text-anchor="middle" >21</text>
<text x="514.20" y="328.20" font-size="13" text-anchor="middle" >28</text>
<text x="551.00" y="328.20" font-size="13" text-anchor="middle" >0</text>
<text x="587.80" y="328.20" font-size="13" text-anchor="middle" >14</text>
<text x="624.60" y="328.20" font-size="13" text-anchor="middle" >21</text>
<text x="661.40" y="328.20" font-size="13" text-anchor="middle" >28</text>
<text x="68.00" y="21.70" font-size="16" class="p">A</text>
<text x="189.30" y="21.70" font-size="12.5" textLength="93.0" lengthAdjust="spacingAndGlyphs"  class="t">Gam-COVID-Vac</text>
<text x="473.30" y="21.70" font-size="12.5" textLength="117.4" lengthAdjust="spacingAndGlyphs"  class="t">Gam-COVID-Vac-Lyo</text>
<text x="124.60" y="59.30" font-size="12.5" textLength="74.6" lengthAdjust="spacingAndGlyphs"  class="t">only rAd26-S</text>
<text x="283.30" y="59.30" font-size="12.5" textLength="66.7" lengthAdjust="spacingAndGlyphs"  class="t">only rAd5-S</text>
<text x="422.00" y="59.30" font-size="12.5" textLength="74.6" lengthAdjust="spacingAndGlyphs"  class="t">only rAd26-S</text>
<text x="569.30" y="59.30" font-size="12.5" textLength="66.7" lengthAdjust="spacingAndGlyphs"  class="t">only rAd5-S</text>
<text class="t" transform="translate(17.7,257.6) rotate(-90)" font-size="13.3" textLength="159" lengthAdjust="spacingAndGlyphs">RBD-specific IgG reciprocal titre</text>
<text x="750.60" y="294.95" font-size="13" text-anchor="end" letter-spacing="0.3">25</text>
<text x="750.60" y="276.00" font-size="13" text-anchor="end" letter-spacing="0.3">50</text>
<text x="750.60" y="257.05" font-size="13" text-anchor="end" letter-spacing="0.3">100</text>
<text x="750.60" y="238.10" font-size="13" text-anchor="end" letter-spacing="0.3">200</text>
<text x="750.60" y="219.15" font-size="13" text-anchor="end" letter-spacing="0.3">400</text>
<text x="750.60" y="200.20" font-size="13" text-anchor="end" letter-spacing="0.3">800</text>
<text x="750.60" y="181.25" font-size="13" text-anchor="end" letter-spacing="0.3">1600</text>
<text x="750.60" y="162.30" font-size="13" text-anchor="end" letter-spacing="0.3">3200</text>
<text x="750.60" y="143.35" font-size="13" text-anchor="end" letter-spacing="0.3">6400</text>
<text x="750.60" y="124.40" font-size="13" text-anchor="end" letter-spacing="0.3">12<tspan dx="1.0">800</tspan></text>
<text x="750.60" y="105.45" font-size="13" text-anchor="end" letter-spacing="0.3">25<tspan dx="1.0">600</tspan></text>
<text x="750.60" y="86.50" font-size="13" text-anchor="end" letter-spacing="0.3">51<tspan dx="1.0">200</tspan></text>
<text x="750.60" y="67.55" font-size="13" text-anchor="end" letter-spacing="0.3">102<tspan dx="1.0">400</tspan></text>
<text x="775.40" y="328.20" font-size="13" text-anchor="middle" >0</text>
<text x="812.20" y="328.20" font-size="13" text-anchor="middle" >14</text>
<text x="849.20" y="328.20" font-size="13" text-anchor="middle" >21</text>
<text x="885.80" y="328.20" font-size="13" text-anchor="middle" >28</text>
<text x="922.80" y="328.20" font-size="13" text-anchor="middle" >42</text>
<text x="959.50" y="328.20" font-size="13" text-anchor="middle" >0</text>
<text x="996.40" y="328.20" font-size="13" text-anchor="middle" >14</text>
<text x="1033.20" y="328.20" font-size="13" text-anchor="middle" >21</text>
<text x="1070.00" y="328.20" font-size="13" text-anchor="middle" >28</text>
<text x="1106.80" y="328.20" font-size="13" text-anchor="middle" >42</text>
<text x="1123.20" y="328.20" font-size="12.5" textLength="74.6" lengthAdjust="spacingAndGlyphs"  class="t">Convalescent</text>
<text x="1141.00" y="344.60" font-size="12.5" textLength="39.2" lengthAdjust="spacingAndGlyphs"  class="t">plasma</text>
<text x="740.80" y="21.70" font-size="16" class="p">B</text>
<text x="802.00" y="21.70" font-size="12.5" textLength="93.2" lengthAdjust="spacingAndGlyphs"  class="t">Gam-COVID-Vac</text>
<text x="976.00" y="21.70" font-size="12.5" textLength="117.2" lengthAdjust="spacingAndGlyphs"  class="t">Gam-COVID-Vac-Lyo</text>
<text x="800.00" y="59.30" font-size="12.5" textLength="98.6" lengthAdjust="spacingAndGlyphs"  class="t">rAd26-S + rAd5-S</text>
<text x="984.80" y="59.30" font-size="12.5" textLength="98.6" lengthAdjust="spacingAndGlyphs"  class="t">rAd26-S + rAd5-S</text>
<text x="78.80" y="616.57" font-size="13" text-anchor="end" letter-spacing="0">2·5</text>
<text x="78.80" y="581.14" font-size="13" text-anchor="end" letter-spacing="0">5·0</text>
<text x="78.80" y="545.71" font-size="13" text-anchor="end" letter-spacing="0">10·0</text>
<text x="78.80" y="510.28" font-size="13" text-anchor="end" letter-spacing="0">20·0</text>
<text x="78.80" y="474.85" font-size="13" text-anchor="end" letter-spacing="0">40·0</text>
<text x="78.80" y="439.42" font-size="13" text-anchor="end" letter-spacing="0">80·0</text>
<text x="78.80" y="403.99" font-size="13" text-anchor="end" letter-spacing="0">160·0</text>
<text x="110.00" y="666.60" font-size="13" text-anchor="middle" >0</text>
<text x="162.00" y="666.60" font-size="13" text-anchor="middle" >14</text>
<text x="213.50" y="666.60" font-size="13" text-anchor="middle" >28</text>
<text x="260.00" y="666.60" font-size="13" text-anchor="middle" >0</text>
<text x="310.00" y="666.60" font-size="13" text-anchor="middle" >14</text>
<text x="359.25" y="666.60" font-size="13" text-anchor="middle" >28</text>
<text x="405.00" y="666.60" font-size="13" text-anchor="middle" >0</text>
<text x="456.00" y="666.60" font-size="13" text-anchor="middle" >14</text>
<text x="507.25" y="666.60" font-size="13" text-anchor="middle" >28</text>
<text x="560.60" y="666.60" font-size="13" text-anchor="middle" >0</text>
<text x="611.20" y="666.60" font-size="13" text-anchor="middle" >14</text>
<text x="661.75" y="666.60" font-size="13" text-anchor="middle" >28</text>
<text x="69.60" y="384.20" font-size="16" class="p">C</text>
<text class="t" transform="translate(17.8,617.3) rotate(-90)" font-size="13.3" textLength="197.6" lengthAdjust="spacingAndGlyphs">Neutralising antibody reciprocal titre</text>
<text x="296.30" y="701.70" font-size="13" textLength="183.7" lengthAdjust="spacingAndGlyphs"  class="t">Time after administration (days)</text>
<text x="749.60" y="621.09" font-size="13" text-anchor="end" letter-spacing="0">2·5</text>
<text x="749.60" y="590.18" font-size="13" text-anchor="end" letter-spacing="0">5·0</text>
<text x="749.60" y="559.27" font-size="13" text-anchor="end" letter-spacing="0">10·0</text>
<text x="749.60" y="528.36" font-size="13" text-anchor="end" letter-spacing="0">20·0</text>
<text x="749.60" y="497.45" font-size="13" text-anchor="end" letter-spacing="0">40·0</text>
<text x="749.60" y="466.54" font-size="13" text-anchor="end" letter-spacing="0">80·0</text>
<text x="749.60" y="435.63" font-size="13" text-anchor="end" letter-spacing="0">160·0</text>
<text x="749.60" y="404.72" font-size="13" text-anchor="end" letter-spacing="0">320·0</text>
<text x="775.40" y="666.60" font-size="13" text-anchor="middle" >0</text>
<text x="827.60" y="666.60" font-size="13" text-anchor="middle" >14</text>
<text x="873.10" y="666.60" font-size="13" text-anchor="middle" >28</text>
<text x="918.75" y="666.60" font-size="13" text-anchor="middle" >42</text>
<text x="966.10" y="666.60" font-size="13" text-anchor="middle" >0</text>
<text x="1011.00" y="666.60" font-size="13" text-anchor="middle" >14</text>
<text x="1056.50" y="666.60" font-size="13" text-anchor="middle" >28</text>
<text x="1101.80" y="666.60" font-size="13" text-anchor="middle" >42</text>
<text x="1123.20" y="666.40" font-size="12.5" textLength="74.8" lengthAdjust="spacingAndGlyphs"  class="t">Convalescent</text>
<text x="1140.80" y="684.60" font-size="12.5" textLength="39.2" lengthAdjust="spacingAndGlyphs"  class="t">plasma</text>
<text x="740.80" y="384.20" font-size="16" class="p">D</text>
<text x="854.00" y="701.70" font-size="13" textLength="247.4" lengthAdjust="spacingAndGlyphs"  class="t">Time after administration of rAd26-S (days)</text>
</g>
</svg>
</body></html>
